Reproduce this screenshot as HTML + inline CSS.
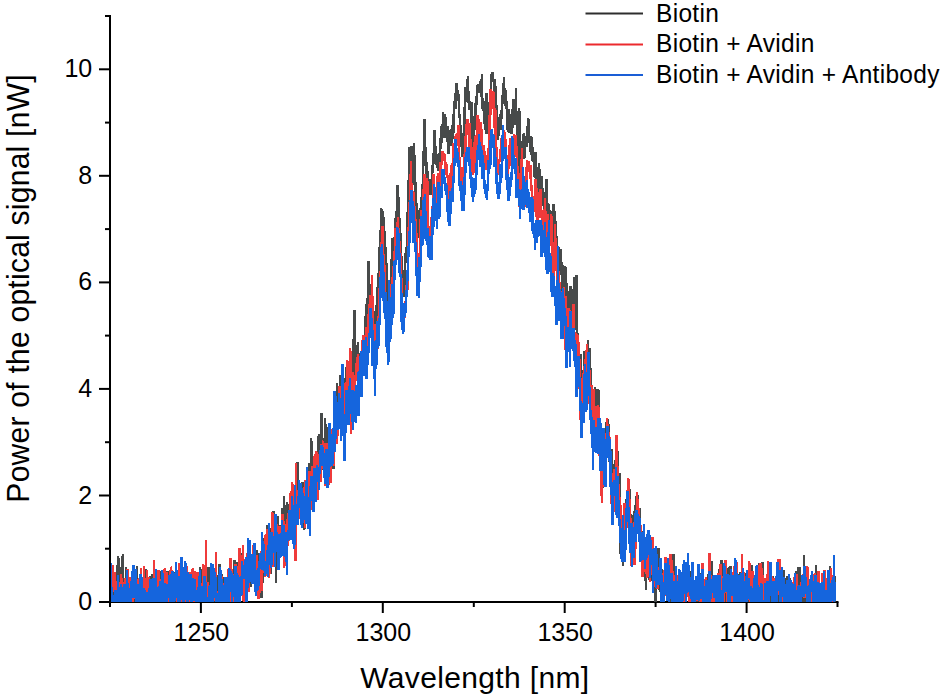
<!DOCTYPE html>
<html><head><meta charset="utf-8"><style>
html,body{margin:0;padding:0;background:#fff;width:943px;height:700px;overflow:hidden}
svg{display:block}
text{font-family:"Liberation Sans",sans-serif}
</style></head><body>
<svg width="943" height="700" viewBox="0 0 943 700">
<g stroke="#000" stroke-width="2" fill="none">
<path d="M110,15V602H838.5"/>
<path d="M99,602.0H110"/>
<path d="M105,548.7H110"/>
<path d="M99,495.5H110"/>
<path d="M105,442.2H110"/>
<path d="M99,388.9H110"/>
<path d="M105,335.6H110"/>
<path d="M99,282.4H110"/>
<path d="M105,229.1H110"/>
<path d="M99,175.8H110"/>
<path d="M105,122.6H110"/>
<path d="M99,69.3H110"/>
<path d="M105,16.0H110"/>
<path d="M110.0,602V607"/>
<path d="M200.9,602V613"/>
<path d="M291.9,602V607"/>
<path d="M382.8,602V613"/>
<path d="M473.8,602V607"/>
<path d="M564.7,602V613"/>
<path d="M655.6,602V607"/>
<path d="M746.6,602V613"/>
<path d="M837.5,602V607"/>
</g>
<defs><clipPath id="pc"><rect x="111" y="0" width="727" height="602"/></clipPath></defs>
<g clip-path="url(#pc)" shape-rendering="crispEdges" fill="none" stroke-width="2.4" stroke-linejoin="miter" stroke-miterlimit="2">
<polyline stroke="#474a4a" points="110.0,594.6 110.3,594.7 110.6,574.2 110.8,577.4 111.1,592.9 111.4,625.5 111.7,600.4 112.0,604.8 112.2,618.8 112.5,585.1 112.8,595.5 113.1,621.4 113.3,589.5 113.6,615.4 113.9,604.7 114.2,606.0 114.5,610.6 114.7,599.4 115.0,602.3 115.3,602.0 115.6,581.8 115.9,597.0 116.1,584.1 116.4,595.4 116.7,580.7 117.0,569.8 117.2,572.7 117.5,578.9 117.8,559.1 118.1,556.3 118.4,571.1 118.6,557.8 118.9,562.2 119.2,575.4 119.5,576.9 119.8,566.7 120.0,576.8 120.3,593.3 120.6,587.6 120.9,571.8 121.2,606.4 121.4,584.4 121.7,592.2 122.0,574.9 122.3,567.3 122.5,561.2 122.8,554.1 123.1,562.6 123.4,587.1 123.7,581.5 123.9,582.1 124.2,594.4 124.5,602.2 124.8,606.9 125.1,594.5 125.3,612.8 125.6,591.9 125.9,603.9 126.2,567.2 126.4,603.1 126.7,593.3 127.0,592.0 127.3,616.4 127.6,615.6 127.8,606.2 128.1,613.8 128.4,617.5 128.7,613.5 129.0,606.4 129.2,612.0 129.5,586.0 129.8,611.8 130.1,581.9 130.4,584.8 130.6,591.0 130.9,600.2 131.2,594.2 131.5,578.1 131.7,586.7 132.0,596.8 132.3,584.2 132.6,600.7 132.9,574.3 133.1,578.9 133.4,600.9 133.7,584.8 134.0,569.1 134.3,599.8 134.5,601.0 134.8,603.3 135.1,593.5 135.4,618.4 135.6,600.3 135.9,609.1 136.2,596.1 136.5,589.3 136.8,592.3 137.0,566.2 137.3,602.5 137.6,597.1 137.9,603.4 138.2,590.3 138.4,603.3 138.7,598.2 139.0,580.5 139.3,599.9 139.6,597.8 139.8,595.6 140.1,593.7 140.4,590.0 140.7,588.6 140.9,600.6 141.2,589.9 141.5,593.1 141.8,620.1 142.1,588.2 142.3,587.0 142.6,595.2 142.9,586.2 143.2,624.4 143.5,591.1 143.7,607.7 144.0,611.8 144.3,604.5 144.6,607.0 144.8,599.6 145.1,593.2 145.4,590.8 145.7,607.6 146.0,599.4 146.2,568.9 146.5,574.8 146.8,576.9 147.1,577.9 147.4,597.3 147.6,588.5 147.9,588.1 148.2,595.4 148.5,580.1 148.8,587.7 149.0,590.7 149.3,578.5 149.6,584.5 149.9,576.0 150.1,602.0 150.4,586.9 150.7,581.7 151.0,583.7 151.3,586.2 151.5,587.9 151.8,593.9 152.1,589.2 152.4,573.7 152.7,592.7 152.9,583.9 153.2,593.0 153.5,609.7 153.8,583.5 154.1,597.2 154.3,600.8 154.6,601.7 154.9,606.4 155.2,590.3 155.4,603.4 155.7,600.2 156.0,598.5 156.3,594.0 156.6,612.3 156.8,583.8 157.1,576.6 157.4,594.3 157.7,583.4 158.0,606.3 158.2,594.5 158.5,607.2 158.8,588.2 159.1,589.6 159.3,584.9 159.6,584.3 159.9,591.3 160.2,582.8 160.5,571.5 160.7,593.1 161.0,581.2 161.3,590.5 161.6,584.5 161.9,604.6 162.1,596.9 162.4,578.6 162.7,580.4 163.0,596.0 163.3,582.0 163.5,583.7 163.8,598.0 164.1,596.1 164.4,612.7 164.6,585.2 164.9,588.3 165.2,595.1 165.5,599.9 165.8,588.9 166.0,583.3 166.3,581.0 166.6,599.3 166.9,592.7 167.2,594.6 167.4,570.9 167.7,605.8 168.0,587.8 168.3,595.1 168.5,583.4 168.8,589.5 169.1,584.6 169.4,584.8 169.7,594.4 169.9,606.5 170.2,581.9 170.5,573.8 170.8,597.0 171.1,593.2 171.3,592.7 171.6,593.3 171.9,620.1 172.2,621.7 172.5,595.8 172.7,598.1 173.0,579.8 173.3,574.3 173.6,601.3 173.8,575.5 174.1,583.1 174.4,584.9 174.7,584.0 175.0,575.5 175.2,572.4 175.5,576.2 175.8,575.1 176.1,579.8 176.4,604.4 176.6,592.1 176.9,594.5 177.2,604.8 177.5,602.8 177.7,612.3 178.0,601.9 178.3,604.3 178.6,580.4 178.9,573.4 179.1,583.4 179.4,568.2 179.7,603.8 180.0,599.5 180.3,597.9 180.5,628.0 180.8,603.3 181.1,598.5 181.4,588.8 181.7,599.6 181.9,598.8 182.2,591.5 182.5,608.8 182.8,585.5 183.0,587.4 183.3,589.0 183.6,586.4 183.9,573.0 184.2,594.8 184.4,588.1 184.7,580.0 185.0,616.1 185.3,587.2 185.6,598.5 185.8,595.9 186.1,588.2 186.4,592.9 186.7,591.1 186.9,605.5 187.2,594.4 187.5,595.3 187.8,588.0 188.1,583.5 188.3,584.7 188.6,572.4 188.9,583.2 189.2,592.8 189.5,583.6 189.7,579.8 190.0,587.2 190.3,597.5 190.6,580.4 190.9,590.9 191.1,591.7 191.4,583.8 191.7,594.3 192.0,584.0 192.2,602.6 192.5,609.8 192.8,584.1 193.1,596.5 193.4,582.2 193.6,593.6 193.9,584.1 194.2,576.7 194.5,604.5 194.8,582.6 195.0,602.4 195.3,584.9 195.6,598.8 195.9,579.6 196.1,585.8 196.4,571.8 196.7,591.5 197.0,573.8 197.3,584.8 197.5,583.0 197.8,591.6 198.1,587.9 198.4,589.9 198.7,572.7 198.9,607.3 199.2,575.6 199.5,599.9 199.8,585.3 200.1,578.2 200.3,566.6 200.6,588.6 200.9,586.7 201.2,592.4 201.4,587.5 201.7,611.2 202.0,599.8 202.3,573.7 202.6,599.1 202.8,599.1 203.1,582.6 203.4,603.5 203.7,590.3 204.0,600.8 204.2,591.8 204.5,597.4 204.8,585.8 205.1,587.3 205.3,584.9 205.6,605.3 205.9,595.8 206.2,594.1 206.5,597.9 206.7,596.1 207.0,570.9 207.3,583.7 207.6,580.4 207.9,585.6 208.1,579.1 208.4,575.4 208.7,567.3 209.0,577.9 209.3,616.0 209.5,594.6 209.8,591.3 210.1,584.8 210.4,591.4 210.6,599.7 210.9,574.9 211.2,596.9 211.5,589.0 211.8,595.2 212.0,590.3 212.3,580.0 212.6,601.7 212.9,583.5 213.2,578.8 213.4,589.5 213.7,588.2 214.0,592.8 214.3,593.5 214.5,595.9 214.8,611.3 215.1,598.7 215.4,610.1 215.7,608.2 215.9,596.5 216.2,603.9 216.5,579.4 216.8,591.1 217.1,590.0 217.3,582.0 217.6,588.2 217.9,596.5 218.2,582.6 218.5,579.5 218.7,574.9 219.0,597.9 219.3,600.6 219.6,563.7 219.8,597.9 220.1,578.5 220.4,606.8 220.7,582.2 221.0,573.8 221.2,585.8 221.5,589.1 221.8,593.6 222.1,574.4 222.4,588.9 222.6,598.7 222.9,591.7 223.2,583.9 223.5,588.1 223.8,596.9 224.0,583.9 224.3,582.6 224.6,577.1 224.9,584.2 225.1,584.6 225.4,602.4 225.7,594.1 226.0,591.8 226.3,605.9 226.5,598.6 226.8,593.4 227.1,592.6 227.4,601.6 227.7,582.9 227.9,584.7 228.2,582.9 228.5,600.0 228.8,599.8 229.0,586.6 229.3,579.0 229.6,586.6 229.9,591.9 230.2,584.2 230.4,577.8 230.7,569.7 231.0,587.1 231.3,568.4 231.6,591.7 231.8,589.0 232.1,582.6 232.4,588.7 232.7,584.9 233.0,599.9 233.2,577.3 233.5,576.7 233.8,576.7 234.1,568.3 234.3,559.7 234.6,561.9 234.9,577.2 235.2,572.0 235.5,582.2 235.7,580.8 236.0,585.2 236.3,588.9 236.6,608.8 236.9,589.7 237.1,600.3 237.4,562.3 237.7,569.8 238.0,580.4 238.2,575.5 238.5,563.6 238.8,574.0 239.1,562.6 239.4,582.4 239.6,562.7 239.9,564.7 240.2,556.9 240.5,573.0 240.8,562.1 241.0,585.2 241.3,570.0 241.6,556.9 241.9,553.3 242.2,567.9 242.4,581.9 242.7,565.3 243.0,579.8 243.3,575.8 243.5,570.2 243.8,585.1 244.1,575.3 244.4,585.3 244.7,581.4 244.9,570.3 245.2,578.8 245.5,559.0 245.8,576.9 246.1,570.4 246.3,586.5 246.6,576.5 246.9,589.7 247.2,581.9 247.4,564.2 247.7,564.1 248.0,571.4 248.3,560.8 248.6,544.3 248.8,549.3 249.1,555.0 249.4,554.4 249.7,583.8 250.0,575.3 250.2,560.4 250.5,573.8 250.8,580.8 251.1,586.9 251.4,560.7 251.6,577.6 251.9,580.1 252.2,560.0 252.5,558.4 252.7,561.3 253.0,554.9 253.3,570.8 253.6,545.9 253.9,579.0 254.1,573.0 254.4,571.1 254.7,557.0 255.0,577.3 255.3,579.6 255.5,565.2 255.8,563.5 256.1,568.5 256.4,566.5 256.6,550.1 256.9,552.8 257.2,563.7 257.5,556.2 257.8,553.3 258.0,555.7 258.3,560.5 258.6,567.7 258.9,573.9 259.2,571.8 259.4,562.5 259.7,570.4 260.0,559.2 260.3,561.6 260.6,590.9 260.8,581.1 261.1,557.6 261.4,563.8 261.7,598.4 261.9,561.0 262.2,594.3 262.5,564.5 262.8,567.2 263.1,563.3 263.3,537.8 263.6,569.6 263.9,554.1 264.2,575.2 264.5,553.9 264.7,552.0 265.0,563.9 265.3,570.6 265.6,571.2 265.8,555.2 266.1,557.0 266.4,549.4 266.7,537.8 267.0,544.9 267.2,543.0 267.5,525.2 267.8,556.9 268.1,535.5 268.4,548.2 268.6,530.8 268.9,548.4 269.2,531.6 269.5,562.3 269.8,563.1 270.0,558.7 270.3,548.9 270.6,544.9 270.9,528.3 271.1,573.7 271.4,561.4 271.7,530.3 272.0,540.6 272.3,548.7 272.5,566.1 272.8,523.8 273.1,545.4 273.4,511.0 273.7,536.4 273.9,538.3 274.2,531.4 274.5,552.1 274.8,563.9 275.0,525.1 275.3,554.3 275.6,545.0 275.9,582.9 276.2,544.1 276.4,568.2 276.7,541.0 277.0,542.1 277.3,530.2 277.6,516.4 277.8,525.3 278.1,541.6 278.4,529.0 278.7,539.4 279.0,541.1 279.2,535.1 279.5,533.6 279.8,541.2 280.1,524.8 280.3,534.5 280.6,524.6 280.9,540.3 281.2,526.7 281.5,527.8 281.7,531.8 282.0,529.2 282.3,507.8 282.6,525.0 282.9,524.0 283.1,535.8 283.4,520.3 283.7,548.1 284.0,496.1 284.2,533.2 284.5,512.1 284.8,515.9 285.1,514.6 285.4,529.0 285.6,529.0 285.9,523.4 286.2,504.9 286.5,517.5 286.8,501.8 287.0,518.7 287.3,515.9 287.6,527.9 287.9,532.4 288.2,539.8 288.4,525.8 288.7,514.9 289.0,511.7 289.3,512.0 289.5,503.8 289.8,514.9 290.1,528.7 290.4,508.5 290.7,497.1 290.9,521.1 291.2,506.9 291.5,501.0 291.8,509.9 292.1,501.6 292.3,520.0 292.6,492.3 292.9,534.0 293.2,496.1 293.5,512.4 293.7,521.8 294.0,517.8 294.3,506.1 294.6,516.3 294.8,488.7 295.1,506.4 295.4,504.0 295.7,507.1 296.0,491.6 296.2,498.5 296.5,511.5 296.8,518.6 297.1,516.1 297.4,507.9 297.6,462.4 297.9,503.7 298.2,494.6 298.5,493.0 298.7,483.1 299.0,497.5 299.3,489.9 299.6,503.8 299.9,496.6 300.1,491.4 300.4,487.2 300.7,492.5 301.0,493.3 301.3,495.7 301.5,507.5 301.8,503.4 302.1,489.6 302.4,488.7 302.7,482.0 302.9,499.9 303.2,519.2 303.5,497.4 303.8,500.1 304.0,504.2 304.3,530.4 304.6,511.6 304.9,527.7 305.2,508.9 305.4,509.9 305.7,506.4 306.0,492.9 306.3,495.1 306.6,511.3 306.8,490.3 307.1,515.5 307.4,483.6 307.7,472.1 307.9,475.6 308.2,486.2 308.5,489.9 308.8,500.3 309.1,463.5 309.3,471.2 309.6,464.9 309.9,482.2 310.2,491.0 310.5,492.5 310.7,488.4 311.0,509.3 311.3,438.1 311.6,494.9 311.9,474.4 312.1,472.3 312.4,469.3 312.7,486.8 313.0,497.0 313.2,499.1 313.5,500.3 313.8,471.1 314.1,465.1 314.4,488.7 314.6,485.8 314.9,483.9 315.2,462.8 315.5,494.3 315.8,450.7 316.0,477.4 316.3,470.8 316.6,472.3 316.9,478.6 317.1,465.2 317.4,487.9 317.7,467.1 318.0,478.9 318.3,475.3 318.5,436.2 318.8,461.0 319.1,452.3 319.4,442.4 319.7,434.3 319.9,454.1 320.2,465.2 320.5,453.6 320.8,435.9 321.1,441.9 321.3,422.7 321.6,412.7 321.9,432.1 322.2,436.1 322.4,444.0 322.7,441.6 323.0,440.7 323.3,468.7 323.6,469.7 323.8,462.0 324.1,437.8 324.4,440.8 324.7,445.1 325.0,417.7 325.2,446.9 325.5,423.7 325.8,446.7 326.1,443.1 326.3,460.0 326.6,440.3 326.9,459.1 327.2,429.4 327.5,443.4 327.7,427.0 328.0,445.0 328.3,473.6 328.6,429.6 328.9,447.5 329.1,439.8 329.4,448.8 329.7,454.1 330.0,445.1 330.3,436.4 330.5,445.1 330.8,446.4 331.1,448.6 331.4,433.1 331.6,463.4 331.9,449.8 332.2,440.8 332.5,460.6 332.8,442.6 333.0,447.8 333.3,437.4 333.6,468.6 333.9,437.8 334.2,429.7 334.4,427.4 334.7,413.5 335.0,423.9 335.3,399.0 335.5,414.4 335.8,400.2 336.1,400.9 336.4,405.6 336.7,414.9 336.9,401.1 337.2,382.7 337.5,404.3 337.8,423.3 338.1,427.2 338.3,386.5 338.6,403.7 338.9,401.2 339.2,389.0 339.5,400.6 339.7,394.6 340.0,389.3 340.3,396.3 340.6,375.4 340.8,381.4 341.1,396.9 341.4,392.8 341.7,382.7 342.0,383.7 342.2,392.6 342.5,400.0 342.8,407.6 343.1,404.4 343.4,404.9 343.6,398.6 343.9,393.8 344.2,421.9 344.5,395.6 344.7,385.1 345.0,382.1 345.3,378.5 345.6,392.3 345.9,373.5 346.1,386.1 346.4,367.0 346.7,382.7 347.0,368.5 347.3,365.4 347.5,404.2 347.8,373.2 348.1,378.6 348.4,387.3 348.7,405.3 348.9,406.6 349.2,385.0 349.5,378.7 349.8,374.5 350.0,373.2 350.3,404.2 350.6,372.7 350.9,379.4 351.2,390.0 351.4,403.6 351.7,406.2 352.0,392.8 352.3,383.9 352.6,392.7 352.8,372.7 353.1,370.7 353.4,360.1 353.7,338.8 353.9,360.4 354.2,380.7 354.5,309.6 354.8,349.2 355.1,356.1 355.3,345.1 355.6,348.7 355.9,369.7 356.2,361.4 356.5,356.6 356.7,351.0 357.0,354.1 357.3,366.2 357.6,365.5 357.9,341.9 358.1,361.0 358.4,364.3 358.7,367.7 359.0,355.5 359.2,369.8 359.5,373.7 359.8,376.1 360.1,370.1 360.4,362.0 360.6,353.1 360.9,355.2 361.2,373.1 361.5,372.8 361.8,367.7 362.0,364.1 362.3,368.3 362.6,366.4 362.9,365.7 363.1,346.5 363.4,355.5 363.7,355.1 364.0,361.6 364.3,341.9 364.5,349.3 364.8,331.9 365.1,315.6 365.4,327.6 365.7,325.1 365.9,320.6 366.2,331.3 366.5,303.9 366.8,309.5 367.1,298.5 367.3,310.5 367.6,331.0 367.9,312.1 368.2,307.3 368.4,293.3 368.7,261.3 369.0,279.9 369.3,291.6 369.6,284.2 369.8,294.2 370.1,306.4 370.4,295.0 370.7,303.8 371.0,299.9 371.2,316.3 371.5,310.0 371.8,311.9 372.1,320.4 372.4,318.8 372.6,315.2 372.9,325.2 373.2,312.2 373.5,329.0 373.7,329.2 374.0,313.2 374.3,337.1 374.6,316.6 374.9,312.4 375.1,336.4 375.4,311.0 375.7,315.8 376.0,304.6 376.3,315.9 376.5,356.2 376.8,312.9 377.1,302.1 377.4,297.9 377.6,297.0 377.9,273.3 378.2,306.4 378.5,283.2 378.8,271.6 379.0,271.2 379.3,270.1 379.6,246.9 379.9,264.5 380.2,230.2 380.4,243.3 380.7,233.9 381.0,235.7 381.3,208.4 381.6,226.6 381.8,211.7 382.1,227.6 382.4,214.8 382.7,238.1 382.9,226.9 383.2,211.1 383.5,226.2 383.8,236.8 384.1,250.2 384.3,248.1 384.6,230.6 384.9,256.4 385.2,251.7 385.5,264.5 385.7,247.1 386.0,283.8 386.3,263.3 386.6,301.0 386.8,273.0 387.1,262.6 387.4,308.2 387.7,306.6 388.0,325.1 388.2,311.6 388.5,315.2 388.8,321.7 389.1,314.6 389.4,331.4 389.6,317.5 389.9,332.1 390.2,317.1 390.5,304.6 390.8,285.4 391.0,285.6 391.3,258.7 391.6,265.3 391.9,258.0 392.1,237.7 392.4,272.1 392.7,251.2 393.0,243.4 393.3,246.4 393.5,258.6 393.8,241.1 394.1,244.0 394.4,239.4 394.7,236.7 394.9,240.6 395.2,244.7 395.5,221.6 395.8,216.3 396.0,229.7 396.3,217.1 396.6,212.3 396.9,210.2 397.2,190.4 397.4,185.3 397.7,190.0 398.0,211.4 398.3,205.2 398.6,197.4 398.8,201.0 399.1,204.2 399.4,223.4 399.7,223.4 400.0,229.2 400.2,242.8 400.5,232.9 400.8,248.6 401.1,235.3 401.3,254.9 401.6,269.7 401.9,269.0 402.2,301.5 402.5,285.7 402.7,281.1 403.0,284.4 403.3,295.7 403.6,269.9 403.9,296.8 404.1,286.2 404.4,277.3 404.7,295.3 405.0,283.6 405.2,253.5 405.5,257.5 405.8,262.9 406.1,248.1 406.4,252.8 406.6,262.1 406.9,227.2 407.2,218.5 407.5,211.9 407.8,221.5 408.0,221.6 408.3,213.1 408.6,202.8 408.9,147.0 409.2,193.9 409.4,200.8 409.7,187.2 410.0,167.9 410.3,163.0 410.5,172.8 410.8,157.8 411.1,151.2 411.4,163.4 411.7,145.9 411.9,158.6 412.2,147.3 412.5,158.5 412.8,160.6 413.1,151.5 413.3,156.7 413.6,185.0 413.9,142.8 414.2,166.3 414.4,154.8 414.7,163.3 415.0,175.1 415.3,182.7 415.6,183.2 415.8,199.3 416.1,217.7 416.4,202.8 416.7,227.1 417.0,207.5 417.2,224.9 417.5,219.9 417.8,223.8 418.1,227.5 418.4,227.5 418.6,232.5 418.9,223.4 419.2,228.4 419.5,238.3 419.7,210.0 420.0,214.6 420.3,216.5 420.6,208.4 420.9,221.0 421.1,200.8 421.4,212.2 421.7,197.5 422.0,184.7 422.3,186.3 422.5,187.3 422.8,183.3 423.1,160.0 423.4,151.0 423.6,165.6 423.9,143.8 424.2,151.0 424.5,119.5 424.8,129.4 425.0,152.1 425.3,146.8 425.6,158.9 425.9,161.4 426.2,161.9 426.4,162.4 426.7,183.2 427.0,168.8 427.3,172.6 427.6,170.7 427.8,191.6 428.1,184.5 428.4,181.9 428.7,188.8 428.9,191.4 429.2,188.9 429.5,179.3 429.8,186.5 430.1,189.9 430.3,180.2 430.6,194.6 430.9,188.2 431.2,184.7 431.5,189.9 431.7,184.6 432.0,178.3 432.3,165.1 432.6,173.3 432.8,161.5 433.1,171.9 433.4,161.2 433.7,153.7 434.0,146.1 434.2,161.0 434.5,130.2 434.8,139.4 435.1,150.2 435.4,145.9 435.6,151.2 435.9,160.7 436.2,155.6 436.5,156.5 436.8,168.3 437.0,157.5 437.3,166.4 437.6,160.5 437.9,154.0 438.1,161.2 438.4,170.8 438.7,156.2 439.0,152.9 439.3,153.9 439.5,167.5 439.8,154.3 440.1,139.5 440.4,149.0 440.7,138.9 440.9,126.0 441.2,126.8 441.5,133.6 441.8,125.6 442.1,142.7 442.3,130.2 442.6,131.5 442.9,112.3 443.2,123.0 443.4,137.9 443.7,120.2 444.0,135.1 444.3,123.6 444.6,125.0 444.8,119.9 445.1,114.1 445.4,131.9 445.7,116.6 446.0,128.5 446.2,124.8 446.5,137.9 446.8,137.6 447.1,141.8 447.3,126.0 447.6,133.2 447.9,153.4 448.2,130.4 448.5,153.5 448.7,149.0 449.0,145.7 449.3,138.2 449.6,144.9 449.9,143.8 450.1,130.1 450.4,134.5 450.7,141.8 451.0,146.2 451.3,131.2 451.5,140.4 451.8,125.4 452.1,143.7 452.4,136.6 452.6,138.0 452.9,115.8 453.2,118.6 453.5,113.9 453.8,132.8 454.0,104.6 454.3,101.3 454.6,108.8 454.9,93.5 455.2,107.7 455.4,109.1 455.7,102.9 456.0,89.7 456.3,83.0 456.5,88.3 456.8,94.8 457.1,89.8 457.4,90.6 457.7,93.7 457.9,97.4 458.2,91.8 458.5,97.0 458.8,102.9 459.1,105.8 459.3,113.7 459.6,118.1 459.9,117.6 460.2,120.6 460.5,130.2 460.7,135.2 461.0,137.5 461.3,139.9 461.6,136.9 461.8,153.7 462.1,149.3 462.4,157.2 462.7,146.7 463.0,133.0 463.2,153.6 463.5,140.2 463.8,139.1 464.1,131.5 464.4,127.0 464.6,112.1 464.9,100.4 465.2,112.1 465.5,87.0 465.7,100.4 466.0,102.1 466.3,91.9 466.6,96.5 466.9,84.1 467.1,87.2 467.4,84.2 467.7,79.5 468.0,75.8 468.3,102.6 468.5,97.0 468.8,98.8 469.1,91.3 469.4,110.3 469.7,108.5 469.9,101.3 470.2,103.5 470.5,108.8 470.8,104.2 471.0,131.2 471.3,122.2 471.6,113.9 471.9,127.2 472.2,101.7 472.4,127.4 472.7,144.0 473.0,140.8 473.3,140.3 473.6,150.3 473.8,138.7 474.1,133.1 474.4,128.2 474.7,122.8 474.9,129.3 475.2,125.2 475.5,115.4 475.8,97.8 476.1,102.1 476.3,105.6 476.6,101.8 476.9,88.0 477.2,94.7 477.5,87.6 477.7,84.6 478.0,87.5 478.3,93.1 478.6,88.8 478.9,86.9 479.1,85.1 479.4,84.9 479.7,90.6 480.0,91.5 480.2,80.9 480.5,90.1 480.8,79.3 481.1,88.1 481.4,96.6 481.6,86.6 481.9,74.5 482.2,94.9 482.5,109.4 482.8,98.5 483.0,110.9 483.3,101.2 483.6,103.4 483.9,115.4 484.1,124.3 484.4,116.9 484.7,117.1 485.0,121.4 485.3,117.3 485.5,130.3 485.8,121.8 486.1,131.5 486.4,133.9 486.7,93.4 486.9,121.9 487.2,118.7 487.5,129.4 487.8,124.9 488.1,113.4 488.3,124.8 488.6,113.1 488.9,116.6 489.2,102.1 489.4,109.5 489.7,108.3 490.0,108.4 490.3,98.2 490.6,93.3 490.8,110.4 491.1,98.8 491.4,74.0 491.7,78.6 492.0,73.9 492.2,72.3 492.5,82.4 492.8,75.4 493.1,72.3 493.3,80.6 493.6,82.2 493.9,80.9 494.2,94.9 494.5,84.6 494.7,79.5 495.0,85.2 495.3,88.6 495.6,85.7 495.9,98.3 496.1,102.8 496.4,106.2 496.7,108.2 497.0,134.3 497.3,128.4 497.5,126.9 497.8,139.5 498.1,130.5 498.4,135.2 498.6,135.2 498.9,131.7 499.2,116.7 499.5,123.1 499.8,118.5 500.0,128.4 500.3,113.8 500.6,119.9 500.9,129.6 501.2,112.5 501.4,119.0 501.7,109.8 502.0,108.4 502.3,100.3 502.5,100.1 502.8,93.3 503.1,92.0 503.4,93.3 503.7,83.3 503.9,77.0 504.2,93.5 504.5,104.4 504.8,91.5 505.1,88.4 505.3,89.5 505.6,103.2 505.9,109.0 506.2,100.2 506.5,101.8 506.7,106.7 507.0,123.5 507.3,126.3 507.6,129.8 507.8,124.2 508.1,127.9 508.4,108.8 508.7,131.5 509.0,123.9 509.2,123.7 509.5,133.1 509.8,128.0 510.1,123.6 510.4,121.4 510.6,129.3 510.9,117.9 511.2,114.3 511.5,133.8 511.8,119.4 512.0,109.7 512.3,122.2 512.6,109.4 512.9,127.6 513.1,105.4 513.4,98.8 513.7,107.3 514.0,118.4 514.3,106.3 514.5,98.6 514.8,106.8 515.1,125.1 515.4,117.8 515.7,99.7 515.9,87.7 516.2,108.7 516.5,114.8 516.8,120.8 517.0,139.2 517.3,111.9 517.6,131.5 517.9,136.3 518.2,127.7 518.4,145.0 518.7,168.9 519.0,165.8 519.3,108.2 519.6,158.9 519.8,158.2 520.1,165.6 520.4,164.5 520.7,186.2 521.0,155.9 521.2,157.1 521.5,161.5 521.8,153.7 522.1,146.2 522.3,144.4 522.6,141.7 522.9,141.0 523.2,136.1 523.5,134.7 523.7,148.2 524.0,133.3 524.3,159.3 524.6,139.7 524.9,138.0 525.1,135.6 525.4,141.5 525.7,146.2 526.0,142.2 526.2,146.1 526.5,137.8 526.8,147.1 527.1,136.1 527.4,140.0 527.6,132.0 527.9,118.5 528.2,133.4 528.5,129.3 528.8,143.3 529.0,119.4 529.3,141.0 529.6,137.3 529.9,149.7 530.2,136.1 530.4,152.2 530.7,150.1 531.0,135.6 531.3,151.2 531.5,155.2 531.8,153.0 532.1,136.7 532.4,156.0 532.7,161.0 532.9,160.4 533.2,147.1 533.5,160.0 533.8,163.2 534.1,160.3 534.3,177.4 534.6,174.8 534.9,172.6 535.2,159.2 535.4,152.4 535.7,178.0 536.0,187.7 536.3,173.9 536.6,168.2 536.8,182.6 537.1,167.0 537.4,191.7 537.7,186.7 538.0,176.9 538.2,170.8 538.5,185.7 538.8,169.5 539.1,163.3 539.4,170.9 539.6,174.7 539.9,169.1 540.2,181.9 540.5,186.9 540.7,189.0 541.0,215.4 541.3,195.3 541.6,189.5 541.9,175.9 542.1,197.6 542.4,204.1 542.7,188.2 543.0,190.8 543.3,206.3 543.5,201.2 543.8,201.9 544.1,200.6 544.4,195.9 544.6,209.5 544.9,198.7 545.2,214.4 545.5,192.0 545.8,221.3 546.0,196.6 546.3,207.8 546.6,178.7 546.9,195.8 547.2,215.9 547.4,217.5 547.7,217.7 548.0,202.7 548.3,224.6 548.6,211.1 548.8,204.0 549.1,213.5 549.4,214.3 549.7,219.2 549.9,217.3 550.2,210.3 550.5,212.3 550.8,232.0 551.1,235.6 551.3,225.5 551.6,239.7 551.9,226.8 552.2,217.1 552.5,227.0 552.7,230.6 553.0,216.6 553.3,228.7 553.6,203.9 553.8,233.9 554.1,220.6 554.4,226.6 554.7,247.0 555.0,223.9 555.2,211.2 555.5,238.2 555.8,252.7 556.1,235.7 556.4,236.8 556.6,261.5 556.9,265.8 557.2,237.0 557.5,263.2 557.8,272.5 558.0,272.4 558.3,251.9 558.6,247.2 558.9,285.0 559.1,275.4 559.4,267.2 559.7,271.2 560.0,274.7 560.3,270.4 560.5,249.2 560.8,249.6 561.1,268.0 561.4,269.6 561.7,267.2 561.9,294.6 562.2,262.2 562.5,269.4 562.8,284.1 563.0,288.3 563.3,314.1 563.6,282.9 563.9,271.1 564.2,280.9 564.4,274.5 564.7,280.3 565.0,297.9 565.3,265.9 565.6,281.9 565.8,285.8 566.1,282.3 566.4,283.0 566.7,300.8 567.0,292.8 567.2,302.9 567.5,298.0 567.8,317.9 568.1,308.7 568.3,292.4 568.6,302.6 568.9,317.7 569.2,315.5 569.5,298.6 569.7,291.3 570.0,292.6 570.3,318.7 570.6,285.7 570.9,303.1 571.1,323.7 571.4,299.8 571.7,296.8 572.0,308.4 572.2,311.5 572.5,297.1 572.8,308.4 573.1,325.6 573.4,294.2 573.6,297.2 573.9,277.3 574.2,313.0 574.5,317.3 574.8,311.4 575.0,320.9 575.3,315.5 575.6,309.3 575.9,325.9 576.2,330.3 576.4,308.1 576.7,275.0 577.0,343.1 577.3,338.1 577.5,342.9 577.8,339.7 578.1,333.2 578.4,360.1 578.7,347.9 578.9,368.8 579.2,378.5 579.5,368.3 579.8,366.7 580.1,371.2 580.3,369.1 580.6,354.5 580.9,378.2 581.2,366.7 581.5,403.8 581.7,385.1 582.0,397.4 582.3,391.7 582.6,399.5 582.8,391.9 583.1,370.2 583.4,380.8 583.7,376.5 584.0,377.5 584.2,377.9 584.5,351.5 584.8,364.8 585.1,354.9 585.4,362.9 585.6,387.4 585.9,380.0 586.2,373.5 586.5,371.1 586.7,383.6 587.0,364.5 587.3,364.0 587.6,346.4 587.9,358.7 588.1,340.1 588.4,357.1 588.7,378.4 589.0,379.7 589.3,362.1 589.5,372.4 589.8,348.4 590.1,387.2 590.4,368.2 590.7,376.9 590.9,396.6 591.2,386.1 591.5,389.6 591.8,401.1 592.0,412.5 592.3,406.9 592.6,435.1 592.9,391.2 593.2,408.4 593.4,415.6 593.7,414.6 594.0,407.5 594.3,421.5 594.6,416.1 594.8,405.8 595.1,387.5 595.4,396.5 595.7,416.1 595.9,391.3 596.2,388.6 596.5,419.4 596.8,388.6 597.1,392.0 597.3,411.3 597.6,396.5 597.9,401.3 598.2,390.5 598.5,389.7 598.7,401.2 599.0,419.3 599.3,440.0 599.6,436.9 599.9,448.9 600.1,443.4 600.4,463.0 600.7,432.8 601.0,441.9 601.2,458.9 601.5,468.7 601.8,455.9 602.1,445.6 602.4,454.1 602.6,455.0 602.9,438.3 603.2,487.9 603.5,455.1 603.8,470.3 604.0,447.7 604.3,461.1 604.6,448.7 604.9,465.9 605.1,446.4 605.4,459.9 605.7,448.9 606.0,443.3 606.3,421.7 606.5,449.5 606.8,421.9 607.1,426.9 607.4,445.4 607.7,421.9 607.9,418.6 608.2,422.2 608.5,426.9 608.8,427.7 609.1,435.3 609.3,441.0 609.6,461.6 609.9,449.3 610.2,454.4 610.4,461.6 610.7,450.3 611.0,477.1 611.3,449.3 611.6,454.6 611.8,525.2 612.1,485.4 612.4,478.1 612.7,504.2 613.0,487.5 613.2,495.6 613.5,478.8 613.8,488.2 614.1,478.6 614.3,464.4 614.6,480.1 614.9,475.7 615.2,476.5 615.5,459.7 615.7,471.3 616.0,469.7 616.3,487.3 616.6,456.8 616.9,466.3 617.1,435.3 617.4,458.6 617.7,477.1 618.0,471.6 618.3,484.8 618.5,495.1 618.8,499.8 619.1,489.7 619.4,473.4 619.6,508.2 619.9,520.6 620.2,519.4 620.5,553.6 620.8,524.7 621.0,520.4 621.3,527.6 621.6,545.1 621.9,556.9 622.2,548.2 622.4,541.3 622.7,534.5 623.0,551.1 623.3,566.3 623.5,533.0 623.8,544.0 624.1,522.1 624.4,529.9 624.7,525.5 624.9,532.8 625.2,520.5 625.5,513.3 625.8,523.8 626.1,500.5 626.3,506.3 626.6,499.4 626.9,499.2 627.2,495.8 627.5,503.5 627.7,490.3 628.0,491.0 628.3,491.6 628.6,494.1 628.8,491.5 629.1,512.5 629.4,488.8 629.7,544.4 630.0,518.5 630.2,530.2 630.5,542.0 630.8,530.6 631.1,538.1 631.4,532.3 631.6,524.9 631.9,526.4 632.2,515.5 632.5,514.9 632.7,532.4 633.0,522.5 633.3,548.2 633.6,554.3 633.9,519.9 634.1,521.5 634.4,525.3 634.7,511.1 635.0,512.1 635.3,532.2 635.5,528.4 635.8,496.3 636.1,511.6 636.4,518.3 636.7,529.3 636.9,518.8 637.2,514.0 637.5,495.4 637.8,522.2 638.0,519.6 638.3,530.1 638.6,527.9 638.9,512.6 639.2,518.4 639.4,526.1 639.7,523.1 640.0,508.1 640.3,531.4 640.6,542.4 640.8,553.4 641.1,550.0 641.4,554.5 641.7,530.6 641.9,541.4 642.2,548.9 642.5,533.5 642.8,543.3 643.1,534.7 643.3,535.7 643.6,549.0 643.9,549.8 644.2,556.9 644.5,544.1 644.7,559.8 645.0,581.0 645.3,554.1 645.6,563.8 645.9,589.7 646.1,571.8 646.4,572.5 646.7,577.7 647.0,535.5 647.2,556.5 647.5,567.0 647.8,555.4 648.1,551.7 648.4,572.3 648.6,568.0 648.9,553.1 649.2,567.9 649.5,579.5 649.8,552.9 650.0,548.1 650.3,547.7 650.6,568.6 650.9,573.4 651.1,568.3 651.4,572.5 651.7,543.1 652.0,578.1 652.3,578.7 652.5,574.2 652.8,584.2 653.1,569.4 653.4,570.1 653.7,585.0 653.9,573.1 654.2,586.8 654.5,579.6 654.8,583.7 655.1,589.4 655.3,580.2 655.6,601.9 655.9,576.4 656.2,588.7 656.4,586.9 656.7,582.7 657.0,587.7 657.3,573.8 657.6,580.6 657.8,550.5 658.1,585.5 658.4,547.8 658.7,563.0 659.0,584.2 659.2,574.3 659.5,584.7 659.8,591.8 660.1,571.1 660.4,571.7 660.6,571.1 660.9,580.1 661.2,570.8 661.5,586.7 661.7,581.5 662.0,600.9 662.3,569.1 662.6,590.8 662.9,572.3 663.1,582.4 663.4,579.5 663.7,586.8 664.0,584.1 664.3,590.1 664.5,591.9 664.8,575.5 665.1,564.6 665.4,580.1 665.6,567.3 665.9,579.4 666.2,582.2 666.5,581.0 666.8,589.5 667.0,598.5 667.3,580.2 667.6,578.5 667.9,582.1 668.2,588.3 668.4,590.9 668.7,588.1 669.0,571.4 669.3,580.3 669.6,592.9 669.8,578.1 670.1,581.4 670.4,600.3 670.7,600.3 670.9,576.7 671.2,601.5 671.5,566.4 671.8,574.3 672.1,579.7 672.3,563.3 672.6,592.3 672.9,575.3 673.2,587.0 673.5,554.0 673.7,601.9 674.0,579.7 674.3,591.8 674.6,600.7 674.8,577.2 675.1,597.8 675.4,594.6 675.7,590.7 676.0,579.5 676.2,583.6 676.5,584.5 676.8,578.5 677.1,591.1 677.4,584.5 677.6,580.9 677.9,580.1 678.2,594.6 678.5,602.0 678.8,594.7 679.0,599.9 679.3,590.0 679.6,597.9 679.9,594.4 680.1,607.2 680.4,593.2 680.7,592.9 681.0,596.1 681.3,590.3 681.5,617.8 681.8,627.5 682.1,600.9 682.4,606.9 682.7,602.2 682.9,616.0 683.2,605.6 683.5,591.7 683.8,589.3 684.0,591.7 684.3,586.2 684.6,576.5 684.9,605.4 685.2,589.5 685.4,580.7 685.7,588.9 686.0,598.7 686.3,594.2 686.6,580.3 686.8,588.2 687.1,589.2 687.4,583.3 687.7,580.1 688.0,589.2 688.2,578.8 688.5,593.9 688.8,586.8 689.1,606.2 689.3,589.6 689.6,579.9 689.9,588.3 690.2,593.7 690.5,583.7 690.7,600.1 691.0,571.0 691.3,598.2 691.6,597.2 691.9,574.4 692.1,588.1 692.4,597.7 692.7,609.8 693.0,574.6 693.2,595.1 693.5,586.0 693.8,586.9 694.1,584.1 694.4,591.3 694.6,580.6 694.9,593.0 695.2,586.7 695.5,595.5 695.8,593.0 696.0,600.3 696.3,584.9 696.6,593.4 696.9,586.8 697.2,588.1 697.4,617.1 697.7,609.6 698.0,591.8 698.3,606.6 698.5,609.8 698.8,613.1 699.1,600.5 699.4,572.7 699.7,596.9 699.9,596.6 700.2,582.8 700.5,591.3 700.8,587.7 701.1,588.0 701.3,578.8 701.6,594.6 701.9,576.7 702.2,586.6 702.4,589.6 702.7,607.0 703.0,600.8 703.3,609.3 703.6,591.0 703.8,585.4 704.1,619.5 704.4,608.9 704.7,589.8 705.0,581.5 705.2,582.6 705.5,589.1 705.8,598.0 706.1,611.8 706.4,599.0 706.6,596.0 706.9,604.6 707.2,601.6 707.5,604.9 707.7,590.3 708.0,582.6 708.3,590.2 708.6,573.8 708.9,611.0 709.1,570.9 709.4,568.5 709.7,582.8 710.0,598.0 710.3,604.6 710.5,588.4 710.8,592.8 711.1,583.4 711.4,582.2 711.6,588.9 711.9,589.4 712.2,561.5 712.5,612.5 712.8,603.5 713.0,601.9 713.3,595.9 713.6,593.3 713.9,607.9 714.2,584.9 714.4,584.0 714.7,602.7 715.0,587.8 715.3,607.1 715.6,602.2 715.8,602.1 716.1,594.2 716.4,604.2 716.7,600.3 716.9,608.5 717.2,601.0 717.5,612.9 717.8,593.6 718.1,591.2 718.3,573.0 718.6,597.7 718.9,583.0 719.2,600.3 719.5,569.0 719.7,585.6 720.0,584.6 720.3,579.4 720.6,575.4 720.8,596.5 721.1,600.5 721.4,594.7 721.7,560.4 722.0,592.8 722.2,601.7 722.5,571.8 722.8,594.3 723.1,575.4 723.4,590.6 723.6,594.7 723.9,633.5 724.2,583.7 724.5,600.9 724.8,619.8 725.0,614.2 725.3,619.1 725.6,598.4 725.9,619.2 726.1,605.2 726.4,608.6 726.7,595.7 727.0,601.3 727.3,598.3 727.5,587.9 727.8,567.9 728.1,600.6 728.4,609.7 728.7,582.7 728.9,597.4 729.2,589.6 729.5,567.3 729.8,567.1 730.1,597.9 730.3,581.1 730.6,583.0 730.9,566.2 731.2,584.7 731.4,588.9 731.7,602.4 732.0,600.0 732.3,591.0 732.6,596.5 732.8,602.4 733.1,596.2 733.4,604.5 733.7,599.9 734.0,589.9 734.2,602.5 734.5,597.2 734.8,593.1 735.1,605.7 735.3,618.4 735.6,599.6 735.9,608.9 736.2,610.4 736.5,611.2 736.7,610.3 737.0,602.8 737.3,588.7 737.6,602.9 737.9,602.3 738.1,590.0 738.4,607.7 738.7,585.4 739.0,585.1 739.3,573.8 739.5,580.3 739.8,577.6 740.1,573.8 740.4,596.5 740.6,572.3 740.9,584.9 741.2,589.1 741.5,591.3 741.8,584.6 742.0,598.5 742.3,576.9 742.6,588.7 742.9,585.3 743.2,604.2 743.4,628.3 743.7,596.1 744.0,598.3 744.3,606.7 744.5,590.5 744.8,602.9 745.1,604.0 745.4,607.2 745.7,598.7 745.9,608.5 746.2,572.9 746.5,622.9 746.8,614.2 747.1,592.6 747.3,592.3 747.6,591.9 747.9,599.3 748.2,587.9 748.5,611.1 748.7,594.5 749.0,619.2 749.3,595.0 749.6,593.1 749.8,608.3 750.1,606.5 750.4,611.5 750.7,585.0 751.0,589.3 751.2,586.6 751.5,585.6 751.8,584.3 752.1,565.0 752.4,587.6 752.6,576.9 752.9,590.5 753.2,588.5 753.5,581.9 753.7,577.5 754.0,589.9 754.3,594.9 754.6,584.2 754.9,589.7 755.1,593.0 755.4,588.1 755.7,592.5 756.0,580.9 756.3,590.0 756.5,584.2 756.8,588.3 757.1,588.3 757.4,570.2 757.7,580.3 757.9,577.8 758.2,588.9 758.5,579.0 758.8,563.1 759.0,580.7 759.3,593.9 759.6,586.6 759.9,596.4 760.2,581.9 760.4,584.6 760.7,588.6 761.0,577.1 761.3,586.8 761.6,581.9 761.8,595.5 762.1,563.3 762.4,562.2 762.7,592.6 762.9,582.9 763.2,595.0 763.5,585.1 763.8,613.9 764.1,613.1 764.3,613.3 764.6,590.0 764.9,594.9 765.2,589.6 765.5,590.8 765.7,590.7 766.0,591.3 766.3,597.8 766.6,578.8 766.9,604.6 767.1,585.6 767.4,586.1 767.7,590.3 768.0,584.0 768.2,601.7 768.5,592.0 768.8,605.3 769.1,594.2 769.4,600.0 769.6,627.6 769.9,604.5 770.2,597.0 770.5,611.4 770.8,603.3 771.0,602.1 771.3,593.1 771.6,587.9 771.9,588.3 772.1,587.0 772.4,580.4 772.7,590.7 773.0,602.1 773.3,576.1 773.5,603.4 773.8,584.1 774.1,588.9 774.4,609.4 774.7,585.1 774.9,587.1 775.2,604.7 775.5,598.7 775.8,586.5 776.1,593.8 776.3,608.9 776.6,597.0 776.9,585.7 777.2,592.0 777.4,580.1 777.7,607.5 778.0,594.4 778.3,609.8 778.6,616.4 778.8,594.6 779.1,598.5 779.4,603.3 779.7,583.5 780.0,596.6 780.2,587.3 780.5,590.8 780.8,576.1 781.1,580.4 781.3,581.7 781.6,584.0 781.9,587.8 782.2,576.9 782.5,593.9 782.7,586.4 783.0,587.8 783.3,601.6 783.6,604.1 783.9,569.8 784.1,589.2 784.4,602.3 784.7,596.8 785.0,598.0 785.3,627.7 785.5,597.3 785.8,599.5 786.1,610.1 786.4,587.5 786.6,578.0 786.9,585.3 787.2,584.9 787.5,575.8 787.8,589.8 788.0,600.8 788.3,602.1 788.6,601.1 788.9,588.7 789.2,594.3 789.4,617.1 789.7,584.2 790.0,578.3 790.3,596.5 790.5,590.4 790.8,594.4 791.1,600.3 791.4,601.7 791.7,610.6 791.9,609.4 792.2,596.4 792.5,597.4 792.8,591.5 793.1,581.9 793.3,605.7 793.6,622.8 793.9,589.7 794.2,605.8 794.5,596.4 794.7,601.0 795.0,590.6 795.3,592.2 795.6,596.6 795.8,594.1 796.1,571.3 796.4,586.8 796.7,582.9 797.0,599.3 797.2,608.1 797.5,590.3 797.8,621.9 798.1,595.7 798.4,598.3 798.6,566.7 798.9,583.3 799.2,595.8 799.5,566.9 799.8,581.1 800.0,593.8 800.3,586.5 800.6,586.1 800.9,592.4 801.1,606.0 801.4,600.9 801.7,600.6 802.0,576.9 802.3,609.0 802.5,598.1 802.8,594.3 803.1,616.5 803.4,607.5 803.7,609.7 803.9,613.9 804.2,555.0 804.5,593.0 804.8,575.5 805.0,607.4 805.3,584.9 805.6,575.1 805.9,592.8 806.2,583.4 806.4,594.8 806.7,585.2 807.0,624.2 807.3,621.2 807.6,602.1 807.8,599.1 808.1,600.0 808.4,607.0 808.7,598.3 809.0,603.3 809.2,606.2 809.5,601.3 809.8,609.3 810.1,603.9 810.3,613.1 810.6,588.5 810.9,586.6 811.2,591.7 811.5,591.8 811.7,596.7 812.0,583.1 812.3,605.1 812.6,600.6 812.9,594.9 813.1,600.7 813.4,587.5 813.7,597.7 814.0,601.8 814.2,587.2 814.5,602.2 814.8,601.3 815.1,586.1 815.4,590.4 815.6,592.1 815.9,586.0 816.2,565.5 816.5,583.1 816.8,583.4 817.0,585.8 817.3,582.4 817.6,609.3 817.9,603.2 818.2,589.2 818.4,623.2 818.7,593.0 819.0,576.9 819.3,604.3 819.5,597.7 819.8,597.4 820.1,595.8 820.4,584.3 820.7,600.5 820.9,592.9 821.2,588.7 821.5,590.4 821.8,590.3 822.1,586.2 822.3,604.1 822.6,585.3 822.9,583.0 823.2,586.3 823.4,587.0 823.7,580.0 824.0,616.0 824.3,606.5 824.6,602.0 824.8,600.6 825.1,604.2 825.4,579.9 825.7,597.7 826.0,590.4 826.2,596.7 826.5,590.3 826.8,604.9 827.1,596.2 827.4,581.9 827.6,584.8 827.9,601.0 828.2,594.1 828.5,589.9 828.7,586.6 829.0,584.7 829.3,592.6 829.6,574.2 829.9,566.3 830.1,570.6 830.4,573.7 830.7,573.8 831.0,600.3 831.3,588.9 831.5,586.7 831.8,592.9 832.1,607.6 832.4,595.0 832.6,584.0 832.9,587.0 833.2,591.6 833.5,575.3 833.8,577.3 834.0,584.7 834.3,574.3 834.6,608.4"/>
<polyline stroke="#ef3b3b" points="110.0,570.3 110.3,585.2 110.6,593.2 110.8,576.1 111.1,594.0 111.4,588.5 111.7,584.6 112.0,590.8 112.2,590.7 112.5,580.8 112.8,587.0 113.1,564.9 113.3,591.8 113.6,591.0 113.9,580.6 114.2,577.0 114.5,571.8 114.7,591.7 115.0,582.8 115.3,601.4 115.6,588.0 115.9,595.8 116.1,583.6 116.4,581.1 116.7,592.3 117.0,593.9 117.2,587.9 117.5,603.3 117.8,583.2 118.1,623.3 118.4,602.2 118.6,598.0 118.9,598.4 119.2,598.4 119.5,605.8 119.8,614.7 120.0,601.2 120.3,583.6 120.6,587.5 120.9,574.0 121.2,581.6 121.4,578.1 121.7,602.2 122.0,602.0 122.3,592.4 122.5,581.7 122.8,594.7 123.1,597.3 123.4,582.0 123.7,605.0 123.9,582.6 124.2,595.2 124.5,598.0 124.8,609.2 125.1,593.5 125.3,595.6 125.6,578.2 125.9,597.7 126.2,583.2 126.4,620.4 126.7,591.9 127.0,568.9 127.3,586.8 127.6,590.7 127.8,568.7 128.1,591.9 128.4,594.2 128.7,587.2 129.0,586.9 129.2,590.0 129.5,602.4 129.8,596.7 130.1,595.5 130.4,577.1 130.6,598.6 130.9,592.8 131.2,593.4 131.5,594.5 131.7,596.1 132.0,598.7 132.3,595.2 132.6,612.3 132.9,607.0 133.1,595.1 133.4,598.0 133.7,595.1 134.0,598.6 134.3,594.9 134.5,584.2 134.8,570.8 135.1,591.2 135.4,576.7 135.6,593.3 135.9,588.6 136.2,579.8 136.5,583.5 136.8,592.8 137.0,586.8 137.3,579.1 137.6,599.1 137.9,603.4 138.2,596.9 138.4,586.3 138.7,581.1 139.0,584.0 139.3,581.3 139.6,577.6 139.8,598.0 140.1,589.8 140.4,577.1 140.7,593.0 140.9,568.2 141.2,587.9 141.5,599.3 141.8,599.2 142.1,592.6 142.3,606.2 142.6,609.5 142.9,606.2 143.2,589.3 143.5,603.6 143.7,592.3 144.0,566.5 144.3,603.1 144.6,583.4 144.8,577.8 145.1,584.2 145.4,599.1 145.7,592.5 146.0,579.9 146.2,596.0 146.5,609.7 146.8,570.4 147.1,593.3 147.4,583.9 147.6,614.7 147.9,594.3 148.2,585.0 148.5,586.6 148.8,595.4 149.0,606.9 149.3,576.6 149.6,597.7 149.9,617.7 150.1,582.7 150.4,609.2 150.7,596.1 151.0,592.7 151.3,601.5 151.5,587.3 151.8,592.4 152.1,580.6 152.4,583.8 152.7,587.0 152.9,589.6 153.2,597.1 153.5,580.5 153.8,602.9 154.1,559.7 154.3,590.7 154.6,572.0 154.9,590.6 155.2,589.9 155.4,584.6 155.7,581.6 156.0,572.0 156.3,584.6 156.6,577.0 156.8,580.7 157.1,590.6 157.4,577.5 157.7,597.0 158.0,591.8 158.2,589.3 158.5,570.2 158.8,587.4 159.1,578.2 159.3,590.1 159.6,578.7 159.9,598.2 160.2,585.1 160.5,592.4 160.7,579.9 161.0,596.1 161.3,609.6 161.6,596.3 161.9,574.0 162.1,589.1 162.4,581.9 162.7,596.3 163.0,578.5 163.3,584.9 163.5,595.1 163.8,569.1 164.1,581.0 164.4,597.4 164.6,592.4 164.9,584.2 165.2,568.1 165.5,579.7 165.8,586.8 166.0,571.6 166.3,575.5 166.6,572.0 166.9,589.2 167.2,579.1 167.4,606.8 167.7,585.4 168.0,601.7 168.3,604.9 168.5,596.6 168.8,587.9 169.1,587.5 169.4,578.5 169.7,591.9 169.9,578.2 170.2,583.9 170.5,579.7 170.8,566.6 171.1,569.1 171.3,568.1 171.6,600.0 171.9,595.4 172.2,583.7 172.5,589.5 172.7,619.6 173.0,618.6 173.3,597.7 173.6,590.8 173.8,610.4 174.1,600.1 174.4,596.9 174.7,577.6 175.0,591.7 175.2,572.8 175.5,581.5 175.8,585.5 176.1,596.5 176.4,592.2 176.6,573.1 176.9,591.7 177.2,582.8 177.5,599.4 177.7,619.9 178.0,606.1 178.3,578.1 178.6,581.5 178.9,596.3 179.1,603.6 179.4,562.8 179.7,590.3 180.0,591.4 180.3,604.3 180.5,573.4 180.8,594.4 181.1,597.1 181.4,608.2 181.7,589.0 181.9,590.4 182.2,605.3 182.5,596.0 182.8,603.9 183.0,604.4 183.3,576.3 183.6,604.2 183.9,588.4 184.2,581.2 184.4,582.0 184.7,594.4 185.0,589.3 185.3,591.0 185.6,607.0 185.8,594.6 186.1,578.0 186.4,587.6 186.7,586.4 186.9,566.2 187.2,592.5 187.5,606.6 187.8,579.0 188.1,595.4 188.3,603.6 188.6,601.6 188.9,609.8 189.2,594.7 189.5,598.2 189.7,597.7 190.0,576.8 190.3,589.4 190.6,572.3 190.9,607.3 191.1,602.8 191.4,608.7 191.7,584.8 192.0,581.3 192.2,584.1 192.5,572.0 192.8,568.3 193.1,582.3 193.4,572.4 193.6,586.4 193.9,588.0 194.2,581.1 194.5,621.8 194.8,578.3 195.0,575.2 195.3,571.2 195.6,581.7 195.9,599.4 196.1,599.4 196.4,591.7 196.7,575.9 197.0,584.2 197.3,586.1 197.5,613.1 197.8,572.4 198.1,578.8 198.4,593.3 198.7,597.6 198.9,583.7 199.2,586.4 199.5,598.6 199.8,602.7 200.1,598.7 200.3,585.6 200.6,606.6 200.9,593.8 201.2,583.2 201.4,597.2 201.7,599.3 202.0,600.6 202.3,584.0 202.6,598.8 202.8,579.0 203.1,563.7 203.4,605.3 203.7,602.6 204.0,585.2 204.2,582.5 204.5,565.2 204.8,587.3 205.1,578.9 205.3,580.3 205.6,615.5 205.9,539.6 206.2,585.0 206.5,610.2 206.7,614.5 207.0,596.5 207.3,581.7 207.6,595.7 207.9,590.0 208.1,606.8 208.4,602.7 208.7,588.8 209.0,591.0 209.3,597.0 209.5,613.9 209.8,597.1 210.1,591.1 210.4,588.3 210.6,600.9 210.9,579.0 211.2,590.8 211.5,584.6 211.8,601.0 212.0,594.3 212.3,588.8 212.6,582.9 212.9,602.2 213.2,590.0 213.4,577.0 213.7,600.6 214.0,592.5 214.3,582.1 214.5,594.5 214.8,595.2 215.1,593.5 215.4,590.6 215.7,582.0 215.9,552.5 216.2,601.6 216.5,591.2 216.8,598.6 217.1,597.0 217.3,591.9 217.6,592.5 217.9,615.1 218.2,601.6 218.5,604.4 218.7,607.5 219.0,594.1 219.3,608.1 219.6,596.6 219.8,593.4 220.1,596.4 220.4,594.2 220.7,604.3 221.0,584.0 221.2,596.6 221.5,579.5 221.8,576.4 222.1,582.3 222.4,594.4 222.6,588.8 222.9,590.1 223.2,590.6 223.5,594.7 223.8,583.2 224.0,591.8 224.3,595.0 224.6,593.8 224.9,598.5 225.1,585.6 225.4,581.6 225.7,588.9 226.0,592.9 226.3,578.2 226.5,609.8 226.8,584.3 227.1,589.0 227.4,582.2 227.7,611.2 227.9,588.3 228.2,568.7 228.5,574.7 228.8,594.7 229.0,585.3 229.3,574.3 229.6,579.6 229.9,582.6 230.2,604.9 230.4,558.2 230.7,602.8 231.0,583.4 231.3,572.6 231.6,588.5 231.8,586.0 232.1,569.2 232.4,576.5 232.7,574.9 233.0,596.4 233.2,603.4 233.5,589.9 233.8,588.4 234.1,589.5 234.3,590.0 234.6,600.2 234.9,579.4 235.2,590.4 235.5,580.9 235.7,564.4 236.0,587.0 236.3,614.5 236.6,565.9 236.9,605.0 237.1,599.4 237.4,588.5 237.7,581.8 238.0,584.5 238.2,590.8 238.5,597.9 238.8,596.4 239.1,576.8 239.4,571.0 239.6,548.2 239.9,567.4 240.2,561.2 240.5,584.4 240.8,564.8 241.0,566.2 241.3,577.4 241.6,573.8 241.9,566.4 242.2,554.8 242.4,568.0 242.7,564.2 243.0,545.1 243.3,562.9 243.5,580.7 243.8,609.3 244.1,578.7 244.4,568.4 244.7,597.9 244.9,559.3 245.2,567.3 245.5,571.5 245.8,574.4 246.1,558.5 246.3,558.1 246.6,580.4 246.9,567.8 247.2,552.7 247.4,563.9 247.7,584.5 248.0,584.3 248.3,543.4 248.6,584.6 248.8,582.7 249.1,591.5 249.4,572.2 249.7,557.9 250.0,551.9 250.2,565.4 250.5,571.6 250.8,573.3 251.1,568.5 251.4,580.2 251.6,578.0 251.9,569.6 252.2,557.5 252.5,583.0 252.7,574.8 253.0,576.6 253.3,545.2 253.6,571.5 253.9,570.5 254.1,562.0 254.4,570.7 254.7,564.7 255.0,581.3 255.3,584.3 255.5,562.3 255.8,577.6 256.1,578.3 256.4,563.2 256.6,575.0 256.9,554.6 257.2,569.9 257.5,584.1 257.8,580.0 258.0,568.1 258.3,582.1 258.6,599.0 258.9,589.7 259.2,582.8 259.4,580.0 259.7,593.4 260.0,561.9 260.3,559.6 260.6,566.0 260.8,551.3 261.1,565.9 261.4,591.4 261.7,551.3 261.9,567.4 262.2,572.1 262.5,556.1 262.8,562.8 263.1,544.3 263.3,569.1 263.6,556.1 263.9,563.6 264.2,548.7 264.5,565.7 264.7,572.8 265.0,534.6 265.3,577.2 265.6,563.8 265.8,533.8 266.1,557.7 266.4,558.2 266.7,553.9 267.0,529.4 267.2,539.6 267.5,553.5 267.8,565.8 268.1,561.0 268.4,574.3 268.6,556.0 268.9,578.0 269.2,561.1 269.5,537.9 269.8,558.3 270.0,573.5 270.3,547.6 270.6,550.1 270.9,554.2 271.1,547.9 271.4,551.5 271.7,566.6 272.0,550.4 272.3,512.3 272.5,521.9 272.8,543.1 273.1,532.5 273.4,566.8 273.7,538.0 273.9,540.5 274.2,552.1 274.5,527.8 274.8,545.9 275.0,522.0 275.3,515.1 275.6,524.3 275.9,529.3 276.2,524.3 276.4,538.6 276.7,540.7 277.0,523.9 277.3,525.2 277.6,541.0 277.8,556.2 278.1,545.8 278.4,549.2 278.7,560.4 279.0,542.3 279.2,549.8 279.5,545.6 279.8,543.0 280.1,527.5 280.3,529.8 280.6,526.4 280.9,545.2 281.2,547.1 281.5,529.1 281.7,542.5 282.0,530.5 282.3,546.5 282.6,514.2 282.9,533.7 283.1,520.7 283.4,521.8 283.7,547.1 284.0,533.4 284.2,567.5 284.5,549.6 284.8,565.9 285.1,538.2 285.4,553.3 285.6,566.0 285.9,539.3 286.2,548.7 286.5,534.5 286.8,519.3 287.0,535.5 287.3,547.3 287.6,537.4 287.9,526.6 288.2,513.0 288.4,530.1 288.7,541.0 289.0,534.3 289.3,528.3 289.5,521.5 289.8,526.4 290.1,536.1 290.4,493.3 290.7,509.3 290.9,490.6 291.2,497.4 291.5,519.0 291.8,486.1 292.1,507.2 292.3,482.3 292.6,508.8 292.9,523.6 293.2,511.8 293.5,499.9 293.7,488.1 294.0,510.5 294.3,527.0 294.6,515.6 294.8,507.8 295.1,516.0 295.4,560.9 295.7,515.4 296.0,462.9 296.2,485.7 296.5,495.3 296.8,517.8 297.1,514.6 297.4,502.9 297.6,508.6 297.9,491.8 298.2,511.2 298.5,519.3 298.7,505.0 299.0,515.3 299.3,512.9 299.6,507.3 299.9,502.0 300.1,499.7 300.4,496.1 300.7,499.8 301.0,515.4 301.3,509.4 301.5,494.4 301.8,526.6 302.1,503.1 302.4,518.5 302.7,501.7 302.9,514.9 303.2,511.4 303.5,523.0 303.8,494.9 304.0,486.8 304.3,513.0 304.6,515.6 304.9,512.5 305.2,528.3 305.4,492.1 305.7,479.6 306.0,512.0 306.3,490.2 306.6,492.0 306.8,518.8 307.1,505.5 307.4,519.7 307.7,507.1 307.9,486.6 308.2,491.1 308.5,489.3 308.8,470.7 309.1,496.6 309.3,497.1 309.6,496.8 309.9,519.7 310.2,470.8 310.5,509.8 310.7,482.9 311.0,496.3 311.3,470.6 311.6,493.5 311.9,488.3 312.1,465.7 312.4,490.0 312.7,478.6 313.0,465.7 313.2,480.0 313.5,496.9 313.8,473.2 314.1,478.4 314.4,488.2 314.6,458.2 314.9,453.8 315.2,469.8 315.5,460.7 315.8,459.5 316.0,485.8 316.3,450.8 316.6,465.6 316.9,478.5 317.1,478.2 317.4,470.6 317.7,496.4 318.0,500.3 318.3,467.6 318.5,467.9 318.8,458.5 319.1,453.6 319.4,465.5 319.7,468.3 319.9,456.3 320.2,469.3 320.5,476.4 320.8,481.7 321.1,473.3 321.3,449.6 321.6,443.6 321.9,457.1 322.2,448.4 322.4,458.7 322.7,447.4 323.0,442.7 323.3,440.6 323.6,469.0 323.8,449.9 324.1,473.8 324.4,443.4 324.7,446.8 325.0,485.5 325.2,463.0 325.5,476.1 325.8,476.9 326.1,460.4 326.3,476.5 326.6,470.7 326.9,442.8 327.2,451.8 327.5,468.6 327.7,450.4 328.0,453.9 328.3,451.6 328.6,484.8 328.9,468.1 329.1,482.8 329.4,452.5 329.7,468.2 330.0,441.9 330.3,461.9 330.5,482.5 330.8,446.0 331.1,462.2 331.4,448.7 331.6,429.3 331.9,450.0 332.2,441.0 332.5,441.8 332.8,447.8 333.0,443.0 333.3,436.8 333.6,447.0 333.9,466.2 334.2,433.9 334.4,433.3 334.7,416.0 335.0,430.0 335.3,434.3 335.5,440.2 335.8,435.2 336.1,411.8 336.4,443.6 336.7,420.1 336.9,416.9 337.2,413.3 337.5,413.2 337.8,417.9 338.1,436.4 338.3,427.0 338.6,414.2 338.9,402.1 339.2,402.2 339.5,386.4 339.7,425.5 340.0,413.3 340.3,393.5 340.6,408.4 340.8,411.2 341.1,411.6 341.4,402.6 341.7,407.6 342.0,410.2 342.2,384.7 342.5,403.0 342.8,423.7 343.1,409.0 343.4,391.0 343.6,425.7 343.9,392.7 344.2,408.8 344.5,422.4 344.7,408.8 345.0,404.9 345.3,383.1 345.6,413.6 345.9,387.2 346.1,396.8 346.4,382.5 346.7,391.2 347.0,404.7 347.3,360.0 347.5,398.8 347.8,395.9 348.1,361.2 348.4,421.1 348.7,406.3 348.9,383.4 349.2,414.6 349.5,396.5 349.8,385.0 350.0,422.5 350.3,348.3 350.6,389.6 350.9,434.2 351.2,388.3 351.4,409.7 351.7,383.2 352.0,386.9 352.3,408.3 352.6,414.9 352.8,415.7 353.1,372.3 353.4,414.0 353.7,382.5 353.9,380.9 354.2,374.8 354.5,384.2 354.8,375.1 355.1,385.6 355.3,375.2 355.6,379.0 355.9,375.3 356.2,362.9 356.5,380.6 356.7,368.4 357.0,358.5 357.3,372.7 357.6,358.3 357.9,354.5 358.1,372.5 358.4,371.2 358.7,375.3 359.0,361.0 359.2,397.5 359.5,384.0 359.8,386.4 360.1,382.9 360.4,377.2 360.6,372.0 360.9,383.2 361.2,386.7 361.5,379.1 361.8,340.9 362.0,365.8 362.3,357.4 362.6,340.5 362.9,350.6 363.1,354.5 363.4,348.7 363.7,335.1 364.0,339.0 364.3,344.0 364.5,355.7 364.8,347.8 365.1,361.7 365.4,351.6 365.7,364.8 365.9,332.2 366.2,346.2 366.5,327.5 366.8,350.0 367.1,345.7 367.3,333.1 367.6,334.5 367.9,342.5 368.2,328.7 368.4,327.1 368.7,313.9 369.0,310.4 369.3,314.6 369.6,316.7 369.8,294.6 370.1,313.9 370.4,324.1 370.7,296.3 371.0,302.1 371.2,304.8 371.5,322.2 371.8,310.7 372.1,275.5 372.4,304.9 372.6,305.8 372.9,338.0 373.2,347.5 373.5,357.0 373.7,349.8 374.0,368.7 374.3,370.1 374.6,326.5 374.9,362.1 375.1,324.1 375.4,338.1 375.7,332.8 376.0,342.1 376.3,340.1 376.5,338.9 376.8,332.2 377.1,338.4 377.4,327.8 377.6,348.8 377.9,330.0 378.2,321.1 378.5,316.4 378.8,319.8 379.0,307.8 379.3,320.1 379.6,291.6 379.9,282.9 380.2,283.7 380.4,277.0 380.7,271.0 381.0,253.1 381.3,254.8 381.6,249.9 381.8,236.5 382.1,235.6 382.4,236.6 382.7,226.1 382.9,259.9 383.2,254.4 383.5,254.7 383.8,256.8 384.1,266.1 384.3,272.9 384.6,265.0 384.9,306.6 385.2,289.4 385.5,300.4 385.7,307.6 386.0,315.1 386.3,333.8 386.6,327.9 386.8,333.4 387.1,328.6 387.4,333.7 387.7,323.5 388.0,310.0 388.2,362.3 388.5,309.5 388.8,308.0 389.1,334.7 389.4,306.7 389.6,311.2 389.9,315.1 390.2,316.1 390.5,304.4 390.8,284.0 391.0,299.0 391.3,308.2 391.6,309.0 391.9,286.2 392.1,307.6 392.4,288.8 392.7,276.7 393.0,287.9 393.3,272.1 393.5,266.5 393.8,265.5 394.1,269.5 394.4,250.6 394.7,258.4 394.9,242.1 395.2,237.7 395.5,227.8 395.8,234.6 396.0,241.0 396.3,241.4 396.6,255.7 396.9,232.7 397.2,228.7 397.4,244.2 397.7,222.4 398.0,217.1 398.3,227.4 398.6,233.9 398.8,230.3 399.1,240.4 399.4,242.9 399.7,240.8 400.0,267.2 400.2,246.3 400.5,263.1 400.8,268.1 401.1,276.6 401.3,277.7 401.6,287.1 401.9,305.5 402.2,309.9 402.5,307.8 402.7,313.8 403.0,328.3 403.3,326.0 403.6,329.4 403.9,320.5 404.1,328.2 404.4,310.7 404.7,317.6 405.0,306.5 405.2,300.8 405.5,307.4 405.8,301.1 406.1,291.8 406.4,285.3 406.6,286.3 406.9,287.9 407.2,280.1 407.5,289.3 407.8,288.7 408.0,257.2 408.3,248.4 408.6,231.4 408.9,219.8 409.2,201.9 409.4,219.2 409.7,211.5 410.0,182.2 410.3,178.5 410.5,174.0 410.8,186.8 411.1,161.3 411.4,192.2 411.7,193.4 411.9,198.1 412.2,192.7 412.5,191.2 412.8,197.5 413.1,215.6 413.3,198.3 413.6,192.4 413.9,197.0 414.2,204.9 414.4,206.8 414.7,212.4 415.0,213.2 415.3,219.0 415.6,222.6 415.8,244.9 416.1,237.1 416.4,233.4 416.7,248.4 417.0,256.1 417.2,248.8 417.5,262.1 417.8,266.8 418.1,252.7 418.4,273.6 418.6,271.7 418.9,265.0 419.2,258.1 419.5,259.8 419.7,252.8 420.0,254.4 420.3,229.6 420.6,219.5 420.9,233.5 421.1,211.4 421.4,235.0 421.7,209.8 422.0,226.6 422.3,232.0 422.5,225.1 422.8,215.2 423.1,199.8 423.4,207.8 423.6,194.0 423.9,181.4 424.2,182.8 424.5,173.6 424.8,192.4 425.0,183.2 425.3,179.5 425.6,189.4 425.9,203.8 426.2,209.5 426.4,200.8 426.7,202.4 427.0,215.5 427.3,178.3 427.6,221.8 427.8,224.2 428.1,223.0 428.4,227.5 428.7,234.1 428.9,232.2 429.2,238.4 429.5,244.1 429.8,237.6 430.1,232.6 430.3,226.7 430.6,234.5 430.9,243.0 431.2,223.8 431.5,216.6 431.7,228.9 432.0,221.3 432.3,206.3 432.6,210.5 432.8,205.5 433.1,189.5 433.4,188.9 433.7,173.7 434.0,187.9 434.2,195.2 434.5,199.2 434.8,198.4 435.1,204.1 435.4,199.1 435.6,192.1 435.9,212.0 436.2,207.6 436.5,209.2 436.8,199.8 437.0,185.8 437.3,201.2 437.6,177.3 437.9,173.3 438.1,215.1 438.4,191.1 438.7,200.5 439.0,173.6 439.3,182.2 439.5,181.9 439.8,188.5 440.1,181.9 440.4,183.6 440.7,162.6 440.9,162.0 441.2,166.4 441.5,163.0 441.8,161.9 442.1,151.4 442.3,159.7 442.6,160.4 442.9,151.4 443.2,152.9 443.4,152.6 443.7,160.4 444.0,159.4 444.3,155.9 444.6,153.9 444.8,159.3 445.1,159.2 445.4,172.3 445.7,162.3 446.0,171.2 446.2,175.0 446.5,169.8 446.8,163.6 447.1,167.4 447.3,176.8 447.6,175.5 447.9,181.6 448.2,175.9 448.5,188.1 448.7,194.0 449.0,195.4 449.3,203.1 449.6,191.3 449.9,187.3 450.1,178.1 450.4,173.2 450.7,185.6 451.0,203.5 451.3,165.2 451.5,172.1 451.8,162.9 452.1,176.7 452.4,173.1 452.6,167.6 452.9,163.4 453.2,160.1 453.5,143.4 453.8,150.3 454.0,155.8 454.3,147.5 454.6,144.6 454.9,147.5 455.2,138.7 455.4,136.0 455.7,137.8 456.0,134.4 456.3,146.0 456.5,139.6 456.8,135.6 457.1,133.3 457.4,141.7 457.7,136.3 457.9,143.9 458.2,145.8 458.5,124.8 458.8,146.5 459.1,147.6 459.3,170.1 459.6,157.1 459.9,171.6 460.2,177.9 460.5,181.9 460.7,178.0 461.0,186.0 461.3,177.3 461.6,176.3 461.8,178.2 462.1,182.8 462.4,180.9 462.7,166.9 463.0,175.3 463.2,186.6 463.5,197.4 463.8,163.3 464.1,162.9 464.4,154.1 464.6,163.7 464.9,152.9 465.2,143.2 465.5,149.1 465.7,136.5 466.0,137.3 466.3,124.8 466.6,124.2 466.9,125.7 467.1,124.4 467.4,132.3 467.7,118.9 468.0,130.7 468.3,129.2 468.5,127.3 468.8,139.0 469.1,133.7 469.4,123.5 469.7,150.5 469.9,150.1 470.2,135.1 470.5,144.1 470.8,139.1 471.0,159.4 471.3,157.0 471.6,147.4 471.9,165.6 472.2,168.8 472.4,174.6 472.7,170.6 473.0,173.8 473.3,174.3 473.6,160.5 473.8,159.3 474.1,171.8 474.4,141.8 474.7,165.8 474.9,154.5 475.2,158.2 475.5,136.3 475.8,147.5 476.1,138.3 476.3,135.5 476.6,139.6 476.9,154.7 477.2,130.2 477.5,139.6 477.7,115.3 478.0,120.9 478.3,128.8 478.6,119.4 478.9,145.8 479.1,128.0 479.4,131.9 479.7,123.3 480.0,129.1 480.2,124.1 480.5,122.0 480.8,145.9 481.1,132.3 481.4,143.9 481.6,128.6 481.9,148.1 482.2,147.4 482.5,151.1 482.8,151.3 483.0,157.2 483.3,145.1 483.6,153.1 483.9,166.7 484.1,152.3 484.4,166.5 484.7,152.4 485.0,151.4 485.3,157.8 485.5,162.3 485.8,160.0 486.1,155.2 486.4,161.3 486.7,169.6 486.9,159.5 487.2,162.6 487.5,165.3 487.8,171.2 488.1,155.3 488.3,155.5 488.6,148.7 488.9,147.1 489.2,134.6 489.4,128.4 489.7,115.3 490.0,118.5 490.3,117.6 490.6,89.3 490.8,113.2 491.1,107.1 491.4,104.1 491.7,103.6 492.0,104.6 492.2,93.0 492.5,102.5 492.8,104.0 493.1,102.0 493.3,91.3 493.6,104.3 493.9,117.1 494.2,119.6 494.5,124.9 494.7,127.6 495.0,125.4 495.3,107.8 495.6,145.2 495.9,148.3 496.1,160.3 496.4,158.8 496.7,147.0 497.0,161.1 497.3,158.6 497.5,162.0 497.8,169.7 498.1,174.6 498.4,172.0 498.6,170.1 498.9,164.9 499.2,160.5 499.5,161.8 499.8,160.2 500.0,155.4 500.3,154.4 500.6,151.4 500.9,145.0 501.2,148.3 501.4,137.8 501.7,146.0 502.0,148.3 502.3,138.7 502.5,139.1 502.8,134.1 503.1,133.1 503.4,138.8 503.7,145.9 503.9,144.9 504.2,130.2 504.5,134.2 504.8,133.5 505.1,144.0 505.3,138.7 505.6,146.9 505.9,152.9 506.2,152.4 506.5,160.0 506.7,170.6 507.0,179.4 507.3,160.6 507.6,182.0 507.8,165.6 508.1,173.4 508.4,166.7 508.7,167.2 509.0,166.5 509.2,168.3 509.5,162.2 509.8,138.5 510.1,162.3 510.4,161.0 510.6,149.9 510.9,160.7 511.2,162.7 511.5,153.1 511.8,157.5 512.0,143.7 512.3,149.0 512.6,137.0 512.9,145.5 513.1,146.5 513.4,138.7 513.7,145.2 514.0,154.6 514.3,134.3 514.5,139.2 514.8,144.8 515.1,144.0 515.4,157.3 515.7,135.2 515.9,140.2 516.2,144.3 516.5,149.7 516.8,159.5 517.0,163.6 517.3,165.3 517.6,178.9 517.9,176.0 518.2,191.7 518.4,173.5 518.7,184.2 519.0,190.9 519.3,191.3 519.6,200.0 519.8,211.3 520.1,198.2 520.4,197.9 520.7,188.6 521.0,188.7 521.2,184.5 521.5,188.0 521.8,147.7 522.1,198.2 522.3,176.0 522.6,172.2 522.9,193.7 523.2,173.5 523.5,181.5 523.7,194.9 524.0,181.3 524.3,180.5 524.6,175.6 524.9,182.4 525.1,179.4 525.4,185.1 525.7,183.8 526.0,185.5 526.2,207.0 526.5,184.5 526.8,160.4 527.1,171.8 527.4,169.1 527.6,169.3 527.9,161.7 528.2,171.9 528.5,169.6 528.8,161.5 529.0,166.3 529.3,167.6 529.6,167.1 529.9,173.7 530.2,169.2 530.4,178.9 530.7,165.1 531.0,179.5 531.3,184.2 531.5,189.9 531.8,191.1 532.1,200.6 532.4,204.2 532.7,199.6 532.9,210.9 533.2,206.2 533.5,196.9 533.8,200.1 534.1,196.9 534.3,212.4 534.6,202.2 534.9,187.2 535.2,201.8 535.4,179.0 535.7,203.8 536.0,205.4 536.3,203.1 536.6,217.1 536.8,210.7 537.1,188.2 537.4,222.2 537.7,200.7 538.0,192.2 538.2,204.1 538.5,191.8 538.8,206.5 539.1,208.1 539.4,204.7 539.6,195.7 539.9,217.7 540.2,205.1 540.5,205.2 540.7,189.1 541.0,212.6 541.3,212.2 541.6,210.2 541.9,227.0 542.1,213.7 542.4,236.4 542.7,223.7 543.0,238.6 543.3,217.1 543.5,210.9 543.8,209.1 544.1,225.8 544.4,227.4 544.6,219.4 544.9,226.9 545.2,198.0 545.5,232.7 545.8,237.4 546.0,227.2 546.3,242.6 546.6,237.5 546.9,224.8 547.2,233.4 547.4,218.4 547.7,228.2 548.0,213.8 548.3,244.1 548.6,240.6 548.8,236.3 549.1,230.8 549.4,238.0 549.7,222.0 549.9,242.8 550.2,238.6 550.5,219.7 550.8,241.5 551.1,229.4 551.3,214.2 551.6,244.0 551.9,248.9 552.2,263.1 552.5,262.6 552.7,250.0 553.0,288.5 553.3,266.3 553.6,265.6 553.8,257.4 554.1,277.8 554.4,254.8 554.7,242.0 555.0,244.3 555.2,224.1 555.5,261.2 555.8,251.4 556.1,258.1 556.4,265.9 556.6,263.7 556.9,282.3 557.2,286.0 557.5,264.5 557.8,290.1 558.0,285.5 558.3,270.4 558.6,281.0 558.9,271.5 559.1,280.8 559.4,290.2 559.7,303.8 560.0,281.9 560.3,301.0 560.5,312.4 560.8,314.7 561.1,310.2 561.4,306.1 561.7,304.6 561.9,301.6 562.2,327.4 562.5,296.2 562.8,289.5 563.0,287.9 563.3,302.2 563.6,318.8 563.9,287.1 564.2,298.2 564.4,299.9 564.7,314.4 565.0,349.8 565.3,319.0 565.6,328.5 565.8,296.4 566.1,344.3 566.4,335.3 566.7,329.2 567.0,335.7 567.2,330.9 567.5,338.6 567.8,335.1 568.1,348.8 568.3,328.4 568.6,308.2 568.9,321.1 569.2,309.9 569.5,324.3 569.7,310.3 570.0,336.8 570.3,336.0 570.6,326.0 570.9,317.4 571.1,327.4 571.4,318.9 571.7,322.7 572.0,312.8 572.2,343.0 572.5,316.3 572.8,326.2 573.1,332.1 573.4,304.2 573.6,332.5 573.9,336.1 574.2,330.7 574.5,337.8 574.8,332.1 575.0,340.9 575.3,332.6 575.6,336.7 575.9,353.7 576.2,341.3 576.4,347.9 576.7,350.5 577.0,356.5 577.3,334.4 577.5,344.8 577.8,368.7 578.1,372.7 578.4,342.2 578.7,368.3 578.9,374.6 579.2,374.8 579.5,386.6 579.8,389.9 580.1,358.9 580.3,391.8 580.6,417.0 580.9,425.4 581.2,393.4 581.5,378.1 581.7,407.1 582.0,416.4 582.3,390.5 582.6,408.5 582.8,400.1 583.1,405.7 583.4,394.3 583.7,373.2 584.0,365.7 584.2,375.6 584.5,375.0 584.8,372.7 585.1,385.3 585.4,365.7 585.6,364.5 585.9,350.1 586.2,369.0 586.5,358.1 586.7,354.5 587.0,344.5 587.3,358.1 587.6,374.6 587.9,372.5 588.1,367.8 588.4,379.5 588.7,382.7 589.0,404.0 589.3,368.1 589.5,382.7 589.8,390.3 590.1,384.0 590.4,393.2 590.7,396.2 590.9,405.0 591.2,429.7 591.5,385.3 591.8,410.5 592.0,397.3 592.3,415.5 592.6,419.8 592.9,424.3 593.2,431.5 593.4,427.6 593.7,388.9 594.0,423.4 594.3,406.7 594.6,430.6 594.8,410.0 595.1,426.0 595.4,410.9 595.7,405.7 595.9,408.3 596.2,415.6 596.5,442.5 596.8,421.6 597.1,412.0 597.3,408.6 597.6,429.5 597.9,416.1 598.2,404.8 598.5,411.0 598.7,424.1 599.0,422.0 599.3,421.2 599.6,456.1 599.9,421.2 600.1,420.3 600.4,464.9 600.7,456.4 601.0,466.7 601.2,485.2 601.5,479.8 601.8,502.8 602.1,472.2 602.4,481.3 602.6,481.9 602.9,468.8 603.2,438.7 603.5,475.6 603.8,486.8 604.0,462.2 604.3,474.4 604.6,468.4 604.9,469.4 605.1,457.8 605.4,451.8 605.7,479.8 606.0,463.6 606.3,433.3 606.5,455.8 606.8,436.5 607.1,417.7 607.4,426.5 607.7,427.2 607.9,429.9 608.2,434.8 608.5,451.5 608.8,459.2 609.1,432.3 609.3,436.7 609.6,439.6 609.9,469.8 610.2,452.0 610.4,452.9 610.7,466.2 611.0,453.7 611.3,474.6 611.6,503.5 611.8,494.3 612.1,473.1 612.4,474.0 612.7,488.8 613.0,484.3 613.2,494.1 613.5,489.5 613.8,468.8 614.1,511.6 614.3,496.8 614.6,471.0 614.9,478.4 615.2,473.4 615.5,484.0 615.7,503.5 616.0,470.3 616.3,456.6 616.6,434.9 616.9,456.7 617.1,479.1 617.4,465.8 617.7,496.3 618.0,475.0 618.3,505.2 618.5,484.3 618.8,508.6 619.1,516.5 619.4,497.0 619.6,506.1 619.9,533.0 620.2,531.2 620.5,537.8 620.8,505.4 621.0,552.6 621.3,549.7 621.6,530.6 621.9,528.0 622.2,554.0 622.4,515.7 622.7,544.1 623.0,533.4 623.3,540.5 623.5,546.1 623.8,526.0 624.1,548.8 624.4,532.1 624.7,503.1 624.9,537.9 625.2,535.5 625.5,522.1 625.8,521.7 626.1,526.0 626.3,510.2 626.6,527.7 626.9,512.6 627.2,497.6 627.5,497.5 627.7,489.9 628.0,518.8 628.3,478.4 628.6,488.7 628.8,509.6 629.1,516.5 629.4,517.5 629.7,499.5 630.0,510.2 630.2,520.6 630.5,518.2 630.8,521.6 631.1,534.4 631.4,565.6 631.6,548.0 631.9,547.8 632.2,530.4 632.5,527.9 632.7,560.7 633.0,563.0 633.3,532.1 633.6,552.3 633.9,560.4 634.1,521.8 634.4,547.3 634.7,565.2 635.0,524.7 635.3,520.0 635.5,549.0 635.8,524.1 636.1,521.9 636.4,523.3 636.7,522.8 636.9,524.9 637.2,492.5 637.5,509.5 637.8,526.8 638.0,513.0 638.3,507.3 638.6,524.1 638.9,519.1 639.2,533.8 639.4,521.1 639.7,524.9 640.0,538.9 640.3,523.0 640.6,560.7 640.8,551.8 641.1,551.5 641.4,542.3 641.7,544.0 641.9,547.8 642.2,570.8 642.5,576.5 642.8,557.8 643.1,562.7 643.3,548.8 643.6,572.3 643.9,558.7 644.2,563.0 644.5,549.7 644.7,558.3 645.0,539.3 645.3,557.0 645.6,549.2 645.9,553.5 646.1,551.6 646.4,568.4 646.7,574.3 647.0,560.8 647.2,577.9 647.5,576.0 647.8,570.3 648.1,553.0 648.4,573.0 648.6,553.2 648.9,544.9 649.2,570.5 649.5,551.9 649.8,581.6 650.0,562.2 650.3,541.0 650.6,543.9 650.9,571.4 651.1,563.5 651.4,564.6 651.7,575.0 652.0,562.0 652.3,571.1 652.5,536.6 652.8,565.1 653.1,559.3 653.4,586.6 653.7,560.6 653.9,552.1 654.2,559.4 654.5,568.1 654.8,558.9 655.1,583.8 655.3,571.4 655.6,555.3 655.9,561.2 656.2,563.5 656.4,574.0 656.7,582.5 657.0,576.8 657.3,570.6 657.6,588.3 657.8,588.6 658.1,569.7 658.4,567.0 658.7,574.8 659.0,580.9 659.2,584.0 659.5,573.1 659.8,572.6 660.1,568.5 660.4,572.0 660.6,579.4 660.9,570.7 661.2,577.1 661.5,587.4 661.7,578.2 662.0,576.3 662.3,580.7 662.6,572.9 662.9,594.1 663.1,594.5 663.4,576.5 663.7,608.7 664.0,569.8 664.3,571.2 664.5,571.7 664.8,595.7 665.1,560.7 665.4,556.7 665.6,582.0 665.9,576.9 666.2,570.8 666.5,582.6 666.8,586.1 667.0,586.5 667.3,595.3 667.6,590.2 667.9,565.9 668.2,578.9 668.4,596.8 668.7,574.8 669.0,581.5 669.3,571.7 669.6,575.3 669.8,580.5 670.1,562.3 670.4,589.2 670.7,553.7 670.9,556.7 671.2,581.6 671.5,560.5 671.8,582.9 672.1,594.0 672.3,607.3 672.6,585.6 672.9,582.7 673.2,570.9 673.5,607.7 673.7,590.9 674.0,586.3 674.3,598.8 674.6,607.4 674.8,599.8 675.1,610.5 675.4,575.3 675.7,608.4 676.0,604.4 676.2,593.6 676.5,584.7 676.8,574.9 677.1,604.0 677.4,580.6 677.6,590.1 677.9,588.4 678.2,600.1 678.5,600.6 678.8,594.8 679.0,594.4 679.3,589.1 679.6,594.6 679.9,590.7 680.1,580.6 680.4,582.2 680.7,601.7 681.0,610.7 681.3,581.9 681.5,580.2 681.8,597.9 682.1,593.0 682.4,596.8 682.7,584.7 682.9,593.1 683.2,584.3 683.5,570.6 683.8,589.5 684.0,600.2 684.3,582.5 684.6,605.8 684.9,594.4 685.2,579.3 685.4,588.6 685.7,601.4 686.0,592.6 686.3,575.8 686.6,585.3 686.8,584.7 687.1,596.6 687.4,587.7 687.7,571.9 688.0,585.3 688.2,584.2 688.5,578.8 688.8,587.3 689.1,579.3 689.3,606.5 689.6,581.3 689.9,596.1 690.2,593.2 690.5,595.4 690.7,588.6 691.0,596.2 691.3,587.9 691.6,592.9 691.9,586.3 692.1,590.3 692.4,576.0 692.7,599.0 693.0,598.0 693.2,598.2 693.5,598.2 693.8,607.6 694.1,593.9 694.4,590.6 694.6,605.1 694.9,580.8 695.2,590.3 695.5,580.8 695.8,582.6 696.0,580.2 696.3,588.9 696.6,581.0 696.9,580.8 697.2,577.9 697.4,590.2 697.7,601.1 698.0,585.7 698.3,587.2 698.5,586.0 698.8,580.2 699.1,591.3 699.4,581.2 699.7,595.8 699.9,592.6 700.2,607.5 700.5,618.4 700.8,620.1 701.1,595.8 701.3,599.0 701.6,598.6 701.9,598.5 702.2,609.3 702.4,562.9 702.7,609.3 703.0,593.6 703.3,599.4 703.6,588.2 703.8,584.3 704.1,592.2 704.4,580.6 704.7,582.7 705.0,583.1 705.2,579.4 705.5,583.5 705.8,577.2 706.1,577.7 706.4,590.4 706.6,609.9 706.9,595.7 707.2,582.1 707.5,596.3 707.7,590.2 708.0,607.0 708.3,600.4 708.6,589.3 708.9,610.5 709.1,582.1 709.4,572.3 709.7,553.0 710.0,577.4 710.3,588.2 710.5,576.0 710.8,579.9 711.1,575.0 711.4,581.6 711.6,584.6 711.9,585.7 712.2,595.6 712.5,601.7 712.8,586.0 713.0,587.6 713.3,605.5 713.6,601.5 713.9,593.1 714.2,587.8 714.4,605.7 714.7,603.2 715.0,599.4 715.3,595.2 715.6,609.4 715.8,587.5 716.1,591.0 716.4,580.8 716.7,593.4 716.9,602.6 717.2,593.8 717.5,597.8 717.8,592.5 718.1,603.7 718.3,573.2 718.6,583.6 718.9,594.6 719.2,578.5 719.5,587.4 719.7,576.1 720.0,576.6 720.3,564.4 720.6,566.8 720.8,579.6 721.1,578.4 721.4,575.8 721.7,582.0 722.0,576.9 722.2,582.9 722.5,592.8 722.8,586.8 723.1,588.9 723.4,606.5 723.6,597.7 723.9,588.1 724.2,590.3 724.5,593.2 724.8,587.9 725.0,573.2 725.3,571.4 725.6,559.7 725.9,592.4 726.1,581.6 726.4,588.4 726.7,589.6 727.0,608.9 727.3,606.3 727.5,585.0 727.8,594.5 728.1,594.9 728.4,591.6 728.7,615.6 728.9,619.1 729.2,598.9 729.5,595.1 729.8,591.6 730.1,602.2 730.3,585.1 730.6,582.5 730.9,587.8 731.2,579.4 731.4,597.0 731.7,592.7 732.0,591.2 732.3,603.7 732.6,583.3 732.8,579.8 733.1,577.5 733.4,571.9 733.7,584.1 734.0,585.0 734.2,566.3 734.5,600.1 734.8,579.7 735.1,580.0 735.3,572.5 735.6,585.9 735.9,598.6 736.2,620.2 736.5,580.2 736.7,598.9 737.0,561.9 737.3,589.3 737.6,599.2 737.9,592.1 738.1,607.4 738.4,613.9 738.7,604.9 739.0,614.6 739.3,588.2 739.5,602.7 739.8,601.0 740.1,613.6 740.4,586.2 740.6,585.4 740.9,583.0 741.2,582.0 741.5,585.8 741.8,585.1 742.0,554.4 742.3,580.5 742.6,582.9 742.9,591.1 743.2,586.4 743.4,588.0 743.7,572.0 744.0,579.6 744.3,576.3 744.5,591.3 744.8,602.9 745.1,625.2 745.4,607.1 745.7,601.9 745.9,578.0 746.2,590.4 746.5,583.9 746.8,602.9 747.1,599.9 747.3,577.9 747.6,591.8 747.9,579.8 748.2,584.2 748.5,585.2 748.7,593.4 749.0,588.6 749.3,561.2 749.6,597.3 749.8,602.0 750.1,610.1 750.4,581.5 750.7,587.9 751.0,579.8 751.2,598.4 751.5,588.3 751.8,591.7 752.1,587.4 752.4,570.7 752.6,594.0 752.9,589.8 753.2,608.6 753.5,587.9 753.7,598.2 754.0,583.8 754.3,599.7 754.6,587.1 754.9,585.2 755.1,587.6 755.4,593.4 755.7,585.2 756.0,596.6 756.3,578.6 756.5,590.9 756.8,575.5 757.1,601.3 757.4,608.0 757.7,583.3 757.9,608.2 758.2,576.8 758.5,589.7 758.8,573.8 759.0,606.3 759.3,565.0 759.6,569.2 759.9,567.4 760.2,570.7 760.4,562.8 760.7,582.3 761.0,570.3 761.3,567.0 761.6,585.8 761.8,587.1 762.1,589.0 762.4,579.3 762.7,575.3 762.9,595.1 763.2,594.4 763.5,601.5 763.8,616.5 764.1,592.8 764.3,583.8 764.6,608.9 764.9,577.8 765.2,585.0 765.5,587.0 765.7,594.5 766.0,587.6 766.3,585.6 766.6,590.4 766.9,586.4 767.1,590.8 767.4,577.4 767.7,574.4 768.0,560.9 768.2,600.5 768.5,580.2 768.8,577.0 769.1,575.7 769.4,580.5 769.6,592.1 769.9,582.0 770.2,583.8 770.5,582.9 770.8,582.5 771.0,577.3 771.3,574.8 771.6,589.8 771.9,597.8 772.1,604.0 772.4,611.0 772.7,600.8 773.0,608.0 773.3,584.4 773.5,581.9 773.8,598.9 774.1,577.8 774.4,588.6 774.7,595.6 774.9,585.0 775.2,598.3 775.5,591.3 775.8,581.7 776.1,600.5 776.3,598.9 776.6,603.5 776.9,595.1 777.2,590.3 777.4,587.1 777.7,578.3 778.0,594.5 778.3,559.4 778.6,588.6 778.8,591.6 779.1,586.4 779.4,585.0 779.7,590.1 780.0,575.5 780.2,559.2 780.5,588.5 780.8,598.7 781.1,587.8 781.3,611.1 781.6,604.0 781.9,588.6 782.2,600.5 782.5,578.8 782.7,581.7 783.0,596.7 783.3,592.5 783.6,592.2 783.9,590.8 784.1,583.2 784.4,604.2 784.7,608.2 785.0,591.7 785.3,607.5 785.5,592.8 785.8,601.5 786.1,594.5 786.4,619.6 786.6,594.5 786.9,617.3 787.2,581.7 787.5,595.7 787.8,596.1 788.0,591.9 788.3,585.6 788.6,583.7 788.9,585.2 789.2,605.7 789.4,591.5 789.7,586.0 790.0,584.8 790.3,594.0 790.5,596.5 790.8,606.3 791.1,585.4 791.4,586.1 791.7,593.9 791.9,597.0 792.2,617.1 792.5,583.8 792.8,585.9 793.1,584.8 793.3,596.6 793.6,584.7 793.9,577.0 794.2,628.1 794.5,619.9 794.7,598.4 795.0,609.1 795.3,601.3 795.6,593.6 795.8,606.1 796.1,592.1 796.4,619.1 796.7,573.9 797.0,607.4 797.2,593.9 797.5,597.5 797.8,586.3 798.1,603.0 798.4,594.5 798.6,603.4 798.9,605.2 799.2,598.7 799.5,630.4 799.8,587.7 800.0,599.7 800.3,599.5 800.6,608.0 800.9,600.6 801.1,604.6 801.4,581.8 801.7,596.4 802.0,587.0 802.3,597.4 802.5,585.8 802.8,576.9 803.1,574.4 803.4,597.3 803.7,582.6 803.9,593.5 804.2,585.3 804.5,598.2 804.8,591.4 805.0,585.3 805.3,589.7 805.6,578.5 805.9,589.5 806.2,586.5 806.4,586.5 806.7,579.0 807.0,592.8 807.3,566.4 807.6,574.3 807.8,591.8 808.1,587.8 808.4,613.3 808.7,591.0 809.0,587.8 809.2,604.8 809.5,590.4 809.8,597.4 810.1,605.9 810.3,603.6 810.6,604.9 810.9,596.5 811.2,603.7 811.5,603.4 811.7,582.5 812.0,592.3 812.3,603.7 812.6,588.7 812.9,574.4 813.1,598.6 813.4,598.1 813.7,582.7 814.0,593.7 814.2,610.7 814.5,601.4 814.8,572.7 815.1,604.0 815.4,603.5 815.6,610.1 815.9,588.4 816.2,583.8 816.5,587.8 816.8,583.4 817.0,588.9 817.3,602.4 817.6,589.3 817.9,595.6 818.2,580.3 818.4,586.8 818.7,570.8 819.0,591.9 819.3,607.7 819.5,594.9 819.8,601.5 820.1,600.4 820.4,607.1 820.7,583.1 820.9,592.6 821.2,599.4 821.5,605.7 821.8,597.1 822.1,585.0 822.3,572.6 822.6,597.1 822.9,580.9 823.2,580.8 823.4,590.6 823.7,595.6 824.0,597.3 824.3,576.8 824.6,569.8 824.8,587.2 825.1,599.3 825.4,584.4 825.7,587.7 826.0,599.6 826.2,590.0 826.5,582.9 826.8,578.2 827.1,613.0 827.4,609.4 827.6,598.8 827.9,590.6 828.2,603.4 828.5,611.0 828.7,594.0 829.0,591.7 829.3,581.5 829.6,578.3 829.9,603.8 830.1,592.4 830.4,591.7 830.7,581.3 831.0,567.9 831.3,602.8 831.5,575.1 831.8,590.1 832.1,580.4 832.4,609.1 832.6,591.3 832.9,590.7 833.2,602.3 833.5,580.5 833.8,590.2 834.0,598.0 834.3,599.5 834.6,588.2"/>
<polyline stroke="#1565dd" points="110.0,582.3 110.3,611.2 110.6,563.2 110.8,591.6 111.1,613.8 111.4,587.1 111.7,591.4 112.0,629.7 112.2,592.2 112.5,613.6 112.8,615.2 113.1,595.3 113.3,610.8 113.6,621.2 113.9,608.9 114.2,606.8 114.5,598.1 114.7,603.8 115.0,592.6 115.3,589.9 115.6,592.9 115.9,592.4 116.1,610.2 116.4,589.6 116.7,602.7 117.0,608.2 117.2,593.2 117.5,608.7 117.8,594.0 118.1,575.0 118.4,591.7 118.6,611.8 118.9,616.3 119.2,604.7 119.5,611.7 119.8,597.2 120.0,615.1 120.3,610.6 120.6,608.8 120.9,586.9 121.2,583.6 121.4,597.4 121.7,586.8 122.0,597.3 122.3,588.2 122.5,604.8 122.8,592.7 123.1,599.1 123.4,594.9 123.7,600.1 123.9,601.1 124.2,584.4 124.5,603.8 124.8,607.9 125.1,591.5 125.3,605.5 125.6,595.7 125.9,585.0 126.2,593.2 126.4,597.1 126.7,584.6 127.0,570.2 127.3,600.9 127.6,582.7 127.8,585.0 128.1,586.3 128.4,589.2 128.7,603.8 129.0,595.8 129.2,602.3 129.5,594.3 129.8,599.9 130.1,610.1 130.4,618.6 130.6,616.4 130.9,592.4 131.2,590.1 131.5,581.4 131.7,591.9 132.0,589.6 132.3,577.6 132.6,571.2 132.9,579.9 133.1,572.7 133.4,564.6 133.7,597.7 134.0,596.9 134.3,591.1 134.5,593.2 134.8,589.3 135.1,585.5 135.4,597.8 135.6,568.8 135.9,603.3 136.2,592.2 136.5,615.3 136.8,597.3 137.0,591.2 137.3,586.8 137.6,585.4 137.9,604.3 138.2,596.4 138.4,583.8 138.7,610.8 139.0,608.7 139.3,595.7 139.6,600.2 139.8,593.1 140.1,595.1 140.4,573.7 140.7,578.4 140.9,585.9 141.2,573.9 141.5,603.1 141.8,576.6 142.1,591.1 142.3,592.3 142.6,594.4 142.9,590.6 143.2,603.8 143.5,593.5 143.7,587.7 144.0,592.8 144.3,589.4 144.6,596.7 144.8,597.3 145.1,605.4 145.4,606.2 145.7,607.2 146.0,598.1 146.2,597.7 146.5,595.0 146.8,597.2 147.1,596.0 147.4,598.5 147.6,591.9 147.9,602.2 148.2,600.9 148.5,608.4 148.8,587.9 149.0,599.8 149.3,596.7 149.6,589.0 149.9,595.9 150.1,581.8 150.4,594.1 150.7,578.6 151.0,598.6 151.3,581.7 151.5,601.9 151.8,588.3 152.1,600.7 152.4,593.0 152.7,603.4 152.9,611.6 153.2,589.4 153.5,578.4 153.8,596.2 154.1,599.6 154.3,612.3 154.6,599.9 154.9,589.9 155.2,582.2 155.4,599.6 155.7,593.2 156.0,568.8 156.3,588.9 156.6,587.1 156.8,598.9 157.1,591.1 157.4,606.7 157.7,617.8 158.0,604.8 158.2,594.0 158.5,591.3 158.8,590.9 159.1,587.1 159.3,587.0 159.6,592.4 159.9,595.9 160.2,610.1 160.5,581.0 160.7,600.2 161.0,594.3 161.3,594.0 161.6,603.5 161.9,625.7 162.1,570.1 162.4,581.3 162.7,572.8 163.0,595.0 163.3,584.0 163.5,592.0 163.8,618.8 164.1,603.2 164.4,601.7 164.6,610.2 164.9,585.2 165.2,582.9 165.5,605.0 165.8,592.7 166.0,598.3 166.3,604.2 166.6,589.4 166.9,584.3 167.2,599.7 167.4,595.9 167.7,592.7 168.0,584.6 168.3,592.2 168.5,589.8 168.8,589.0 169.1,576.2 169.4,576.1 169.7,591.9 169.9,588.6 170.2,597.4 170.5,602.5 170.8,588.2 171.1,600.4 171.3,603.9 171.6,600.2 171.9,592.4 172.2,590.0 172.5,594.9 172.7,571.3 173.0,586.7 173.3,610.0 173.6,587.4 173.8,573.2 174.1,582.2 174.4,580.6 174.7,591.2 175.0,600.6 175.2,580.1 175.5,598.2 175.8,576.4 176.1,562.0 176.4,573.5 176.6,587.9 176.9,586.3 177.2,576.2 177.5,583.7 177.7,583.4 178.0,611.2 178.3,597.5 178.6,576.2 178.9,586.7 179.1,592.7 179.4,619.9 179.7,595.0 180.0,590.9 180.3,584.7 180.5,586.0 180.8,595.8 181.1,581.0 181.4,587.3 181.7,556.7 181.9,578.8 182.2,587.5 182.5,593.7 182.8,602.9 183.0,586.8 183.3,588.1 183.6,612.6 183.9,595.7 184.2,567.2 184.4,593.3 184.7,596.5 185.0,592.1 185.3,560.6 185.6,595.6 185.8,600.0 186.1,580.9 186.4,599.2 186.7,599.3 186.9,605.1 187.2,608.2 187.5,571.8 187.8,622.5 188.1,604.6 188.3,589.1 188.6,584.4 188.9,597.6 189.2,582.5 189.5,599.6 189.7,595.8 190.0,593.9 190.3,596.0 190.6,574.1 190.9,602.6 191.1,590.9 191.4,585.1 191.7,601.4 192.0,598.5 192.2,596.0 192.5,587.0 192.8,578.3 193.1,601.1 193.4,594.9 193.6,595.2 193.9,588.6 194.2,587.0 194.5,598.7 194.8,597.4 195.0,579.4 195.3,600.9 195.6,596.2 195.9,593.3 196.1,589.7 196.4,604.6 196.7,601.9 197.0,600.1 197.3,601.2 197.5,591.6 197.8,609.6 198.1,587.2 198.4,589.5 198.7,592.6 198.9,587.3 199.2,579.6 199.5,591.4 199.8,570.3 200.1,581.9 200.3,590.5 200.6,605.5 200.9,609.5 201.2,587.3 201.4,585.8 201.7,616.0 202.0,607.2 202.3,590.4 202.6,590.1 202.8,590.0 203.1,611.7 203.4,606.4 203.7,610.3 204.0,595.4 204.2,580.2 204.5,575.7 204.8,602.4 205.1,607.6 205.3,590.3 205.6,582.3 205.9,582.8 206.2,594.3 206.5,601.2 206.7,615.6 207.0,610.9 207.3,612.6 207.6,619.4 207.9,598.4 208.1,607.2 208.4,612.3 208.7,614.3 209.0,592.3 209.3,595.9 209.5,586.4 209.8,600.8 210.1,594.4 210.4,587.4 210.6,585.4 210.9,617.2 211.2,563.3 211.5,589.0 211.8,597.5 212.0,591.0 212.3,587.2 212.6,579.5 212.9,563.9 213.2,606.0 213.4,575.9 213.7,568.2 214.0,590.1 214.3,570.9 214.5,582.1 214.8,577.1 215.1,581.5 215.4,577.2 215.7,597.5 215.9,616.3 216.2,611.8 216.5,593.4 216.8,595.6 217.1,605.5 217.3,599.2 217.6,609.8 217.9,603.5 218.2,597.5 218.5,611.6 218.7,599.9 219.0,596.4 219.3,606.2 219.6,584.6 219.8,567.4 220.1,590.3 220.4,570.0 220.7,583.5 221.0,586.2 221.2,571.5 221.5,591.8 221.8,593.2 222.1,608.3 222.4,604.4 222.6,594.4 222.9,586.1 223.2,584.8 223.5,602.3 223.8,596.1 224.0,597.1 224.3,611.4 224.6,586.2 224.9,586.5 225.1,581.5 225.4,591.2 225.7,577.5 226.0,602.1 226.3,607.2 226.5,601.8 226.8,597.5 227.1,599.1 227.4,607.6 227.7,598.3 227.9,577.5 228.2,587.9 228.5,606.4 228.8,571.6 229.0,582.0 229.3,568.0 229.6,580.7 229.9,581.0 230.2,569.4 230.4,581.5 230.7,571.1 231.0,591.6 231.3,579.7 231.6,579.6 231.8,573.1 232.1,616.1 232.4,576.6 232.7,581.1 233.0,596.9 233.2,576.7 233.5,593.7 233.8,593.6 234.1,583.4 234.3,579.1 234.6,579.0 234.9,570.4 235.2,584.6 235.5,565.9 235.7,605.7 236.0,575.3 236.3,584.1 236.6,575.4 236.9,572.8 237.1,592.0 237.4,590.8 237.7,576.1 238.0,576.3 238.2,590.5 238.5,611.9 238.8,596.6 239.1,589.4 239.4,596.8 239.6,604.3 239.9,601.1 240.2,582.8 240.5,578.6 240.8,576.1 241.0,576.9 241.3,595.7 241.6,580.9 241.9,586.6 242.2,561.5 242.4,571.6 242.7,575.7 243.0,579.0 243.3,568.4 243.5,578.0 243.8,575.2 244.1,578.6 244.4,565.2 244.7,573.7 244.9,572.2 245.2,570.6 245.5,567.2 245.8,556.8 246.1,591.4 246.3,593.0 246.6,608.2 246.9,574.4 247.2,567.1 247.4,587.6 247.7,570.4 248.0,538.5 248.3,585.5 248.6,557.3 248.8,557.0 249.1,572.7 249.4,566.4 249.7,540.0 250.0,570.5 250.2,581.8 250.5,573.7 250.8,566.4 251.1,571.5 251.4,554.2 251.6,565.5 251.9,574.3 252.2,577.6 252.5,573.2 252.7,584.1 253.0,555.1 253.3,560.3 253.6,561.3 253.9,551.3 254.1,562.9 254.4,543.4 254.7,573.9 255.0,577.6 255.3,569.2 255.5,582.3 255.8,596.3 256.1,575.6 256.4,585.8 256.6,570.5 256.9,576.0 257.2,590.1 257.5,590.3 257.8,574.9 258.0,567.6 258.3,576.0 258.6,583.8 258.9,586.3 259.2,573.5 259.4,566.4 259.7,561.7 260.0,555.7 260.3,554.7 260.6,553.6 260.8,557.0 261.1,565.4 261.4,555.8 261.7,558.1 261.9,551.3 262.2,532.0 262.5,570.2 262.8,557.0 263.1,541.0 263.3,551.6 263.6,546.0 263.9,544.1 264.2,570.5 264.5,560.9 264.7,567.3 265.0,575.9 265.3,564.1 265.6,569.1 265.8,561.6 266.1,563.4 266.4,567.9 266.7,561.0 267.0,559.2 267.2,550.2 267.5,566.8 267.8,577.4 268.1,562.8 268.4,559.3 268.6,559.7 268.9,523.0 269.2,550.9 269.5,565.2 269.8,542.3 270.0,546.9 270.3,547.7 270.6,548.9 270.9,567.9 271.1,533.2 271.4,532.2 271.7,564.7 272.0,541.9 272.3,542.9 272.5,540.8 272.8,536.3 273.1,551.5 273.4,537.6 273.7,546.8 273.9,552.6 274.2,539.5 274.5,542.7 274.8,540.7 275.0,567.3 275.3,535.5 275.6,514.0 275.9,536.8 276.2,518.5 276.4,543.8 276.7,547.5 277.0,546.5 277.3,537.3 277.6,552.3 277.8,547.5 278.1,564.7 278.4,569.9 278.7,534.2 279.0,539.8 279.2,545.3 279.5,545.8 279.8,541.0 280.1,542.4 280.3,558.2 280.6,537.8 280.9,537.7 281.2,548.8 281.5,549.6 281.7,533.6 282.0,520.3 282.3,551.7 282.6,552.2 282.9,555.9 283.1,545.3 283.4,524.9 283.7,529.8 284.0,555.2 284.2,530.9 284.5,545.5 284.8,557.4 285.1,541.9 285.4,543.7 285.6,534.4 285.9,556.7 286.2,551.2 286.5,532.5 286.8,574.5 287.0,557.5 287.3,539.6 287.6,540.6 287.9,530.7 288.2,533.7 288.4,530.4 288.7,531.8 289.0,530.0 289.3,509.6 289.5,514.1 289.8,525.0 290.1,539.2 290.4,539.5 290.7,536.5 290.9,538.9 291.2,521.5 291.5,534.9 291.8,526.4 292.1,495.8 292.3,532.6 292.6,505.3 292.9,526.2 293.2,516.3 293.5,544.4 293.7,527.6 294.0,547.4 294.3,548.6 294.6,513.2 294.8,517.6 295.1,484.6 295.4,520.8 295.7,509.5 296.0,508.6 296.2,515.2 296.5,516.0 296.8,507.1 297.1,504.1 297.4,525.1 297.6,511.0 297.9,512.1 298.2,509.1 298.5,496.8 298.7,496.5 299.0,480.1 299.3,486.4 299.6,505.7 299.9,508.0 300.1,490.3 300.4,507.3 300.7,483.4 301.0,515.1 301.3,499.7 301.5,515.9 301.8,528.1 302.1,488.1 302.4,510.3 302.7,493.4 302.9,520.9 303.2,523.4 303.5,515.5 303.8,512.9 304.0,517.8 304.3,518.3 304.6,516.2 304.9,507.9 305.2,517.8 305.4,498.8 305.7,495.8 306.0,523.8 306.3,498.6 306.6,503.0 306.8,467.3 307.1,504.0 307.4,503.5 307.7,501.9 307.9,506.4 308.2,511.8 308.5,529.0 308.8,497.2 309.1,511.4 309.3,509.3 309.6,509.3 309.9,535.6 310.2,505.6 310.5,486.1 310.7,495.9 311.0,489.4 311.3,498.3 311.6,476.2 311.9,501.3 312.1,489.8 312.4,479.9 312.7,489.3 313.0,493.1 313.2,487.6 313.5,511.9 313.8,494.4 314.1,480.1 314.4,467.8 314.6,490.8 314.9,492.9 315.2,490.2 315.5,485.9 315.8,501.2 316.0,502.2 316.3,478.9 316.6,476.0 316.9,464.7 317.1,471.0 317.4,477.5 317.7,481.6 318.0,467.2 318.3,474.9 318.5,480.3 318.8,476.2 319.1,489.6 319.4,468.2 319.7,474.3 319.9,463.6 320.2,466.7 320.5,455.6 320.8,448.0 321.1,462.6 321.3,462.9 321.6,444.7 321.9,456.5 322.2,460.8 322.4,461.0 322.7,465.8 323.0,447.5 323.3,464.5 323.6,457.4 323.8,463.2 324.1,452.8 324.4,465.2 324.7,477.6 325.0,484.0 325.2,478.2 325.5,471.5 325.8,472.0 326.1,466.7 326.3,473.8 326.6,449.4 326.9,458.4 327.2,483.6 327.5,487.8 327.7,475.9 328.0,458.3 328.3,462.2 328.6,474.9 328.9,477.4 329.1,470.6 329.4,465.6 329.7,422.7 330.0,463.9 330.3,455.3 330.5,434.5 330.8,447.6 331.1,442.5 331.4,459.1 331.6,449.4 331.9,445.0 332.2,466.4 332.5,459.7 332.8,461.4 333.0,427.6 333.3,450.7 333.6,446.1 333.9,425.7 334.2,442.5 334.4,391.0 334.7,452.0 335.0,451.4 335.3,429.5 335.5,439.3 335.8,422.3 336.1,396.5 336.4,405.1 336.7,420.6 336.9,412.6 337.2,418.5 337.5,415.7 337.8,429.3 338.1,409.9 338.3,429.5 338.6,420.7 338.9,393.5 339.2,418.6 339.5,400.8 339.7,417.4 340.0,421.1 340.3,422.1 340.6,398.3 340.8,428.9 341.1,440.9 341.4,422.2 341.7,416.6 342.0,422.7 342.2,378.9 342.5,363.7 342.8,435.9 343.1,432.4 343.4,423.5 343.6,413.6 343.9,423.3 344.2,455.8 344.5,461.2 344.7,430.4 345.0,440.1 345.3,419.1 345.6,433.0 345.9,410.6 346.1,415.4 346.4,389.9 346.7,413.1 347.0,421.5 347.3,393.8 347.5,419.6 347.8,403.7 348.1,413.0 348.4,402.8 348.7,425.0 348.9,386.5 349.2,417.4 349.5,388.0 349.8,387.5 350.0,378.4 350.3,398.1 350.6,408.8 350.9,410.9 351.2,402.6 351.4,414.3 351.7,398.8 352.0,422.0 352.3,403.4 352.6,390.2 352.8,429.8 353.1,418.4 353.4,410.5 353.7,391.0 353.9,394.8 354.2,421.9 354.5,406.5 354.8,409.5 355.1,409.3 355.3,408.3 355.6,401.6 355.9,401.0 356.2,423.4 356.5,388.5 356.7,385.2 357.0,392.1 357.3,398.5 357.6,410.2 357.9,403.4 358.1,407.0 358.4,371.9 358.7,415.7 359.0,373.3 359.2,375.0 359.5,370.6 359.8,379.3 360.1,375.0 360.4,370.9 360.6,359.4 360.9,350.9 361.2,363.8 361.5,396.5 361.8,368.7 362.0,363.6 362.3,370.4 362.6,375.7 362.9,360.9 363.1,359.4 363.4,360.5 363.7,340.5 364.0,367.3 364.3,359.3 364.5,375.6 364.8,359.0 365.1,361.7 365.4,356.1 365.7,351.2 365.9,346.2 366.2,337.3 366.5,379.0 366.8,348.4 367.1,366.0 367.3,365.9 367.6,351.9 367.9,346.6 368.2,346.9 368.4,350.0 368.7,352.9 369.0,346.5 369.3,333.2 369.6,337.6 369.8,333.0 370.1,315.3 370.4,308.4 370.7,324.4 371.0,316.3 371.2,314.7 371.5,323.1 371.8,327.0 372.1,357.0 372.4,344.6 372.6,365.5 372.9,351.8 373.2,330.1 373.5,358.9 373.7,350.5 374.0,372.7 374.3,358.8 374.6,367.5 374.9,396.2 375.1,368.9 375.4,351.1 375.7,358.4 376.0,364.8 376.3,368.9 376.5,340.3 376.8,358.1 377.1,344.2 377.4,321.5 377.6,330.2 377.9,348.1 378.2,333.5 378.5,346.0 378.8,318.3 379.0,343.7 379.3,318.3 379.6,324.0 379.9,324.3 380.2,305.1 380.4,292.9 380.7,277.6 381.0,276.1 381.3,255.3 381.6,250.4 381.8,244.3 382.1,253.7 382.4,280.1 382.7,282.3 382.9,272.8 383.2,255.2 383.5,301.3 383.8,275.0 384.1,278.3 384.3,294.5 384.6,313.4 384.9,300.4 385.2,311.0 385.5,318.5 385.7,291.7 386.0,346.6 386.3,310.5 386.6,343.6 386.8,319.4 387.1,351.1 387.4,353.3 387.7,347.0 388.0,347.4 388.2,365.2 388.5,358.4 388.8,279.6 389.1,333.9 389.4,337.0 389.6,334.0 389.9,313.2 390.2,342.0 390.5,334.2 390.8,335.7 391.0,327.9 391.3,296.9 391.6,316.7 391.9,302.9 392.1,325.4 392.4,292.1 392.7,284.0 393.0,289.0 393.3,317.5 393.5,290.3 393.8,302.5 394.1,296.0 394.4,262.1 394.7,261.2 394.9,279.9 395.2,268.9 395.5,260.0 395.8,263.3 396.0,260.0 396.3,246.0 396.6,259.5 396.9,227.2 397.2,249.0 397.4,245.9 397.7,235.0 398.0,228.6 398.3,230.6 398.6,255.2 398.8,258.5 399.1,244.0 399.4,272.7 399.7,272.5 400.0,253.5 400.2,274.6 400.5,273.7 400.8,277.5 401.1,301.5 401.3,291.0 401.6,317.0 401.9,329.7 402.2,301.3 402.5,327.9 402.7,306.0 403.0,324.7 403.3,334.3 403.6,302.8 403.9,329.8 404.1,316.8 404.4,315.2 404.7,317.3 405.0,315.6 405.2,314.9 405.5,309.9 405.8,310.7 406.1,300.3 406.4,291.6 406.6,297.0 406.9,279.2 407.2,288.2 407.5,269.6 407.8,272.0 408.0,264.4 408.3,246.5 408.6,257.0 408.9,249.1 409.2,231.1 409.4,242.6 409.7,239.8 410.0,229.6 410.3,214.1 410.5,200.5 410.8,208.5 411.1,203.4 411.4,190.2 411.7,194.1 411.9,211.4 412.2,223.4 412.5,200.6 412.8,206.9 413.1,242.5 413.3,206.0 413.6,206.9 413.9,219.1 414.2,212.4 414.4,228.4 414.7,231.3 415.0,236.1 415.3,241.5 415.6,250.9 415.8,252.6 416.1,270.7 416.4,275.5 416.7,267.5 417.0,278.4 417.2,282.7 417.5,295.6 417.8,279.8 418.1,283.9 418.4,288.0 418.6,286.2 418.9,298.4 419.2,288.0 419.5,272.9 419.7,256.9 420.0,277.7 420.3,261.7 420.6,263.3 420.9,266.7 421.1,249.2 421.4,245.4 421.7,215.6 422.0,242.2 422.3,219.7 422.5,245.3 422.8,217.7 423.1,219.6 423.4,238.8 423.6,201.8 423.9,197.2 424.2,206.3 424.5,216.5 424.8,194.1 425.0,213.7 425.3,211.3 425.6,213.2 425.9,233.3 426.2,227.5 426.4,233.1 426.7,240.7 427.0,237.9 427.3,243.1 427.6,228.1 427.8,256.9 428.1,241.3 428.4,237.8 428.7,243.8 428.9,258.0 429.2,244.1 429.5,238.1 429.8,254.7 430.1,236.4 430.3,244.7 430.6,260.2 430.9,246.7 431.2,258.4 431.5,260.2 431.7,244.2 432.0,236.7 432.3,235.1 432.6,224.6 432.8,197.8 433.1,226.5 433.4,209.5 433.7,201.8 434.0,183.8 434.2,226.9 434.5,204.9 434.8,186.8 435.1,203.6 435.4,203.1 435.6,208.3 435.9,215.6 436.2,213.4 436.5,214.6 436.8,223.3 437.0,228.7 437.3,216.7 437.6,214.8 437.9,209.9 438.1,206.5 438.4,182.5 438.7,205.9 439.0,203.0 439.3,219.3 439.5,200.1 439.8,206.6 440.1,200.5 440.4,193.4 440.7,193.9 440.9,197.6 441.2,196.9 441.5,197.5 441.8,181.5 442.1,178.7 442.3,183.4 442.6,169.4 442.9,179.3 443.2,171.5 443.4,168.9 443.7,172.3 444.0,173.7 444.3,179.9 444.6,184.0 444.8,177.2 445.1,183.7 445.4,190.8 445.7,183.0 446.0,192.8 446.2,195.3 446.5,186.5 446.8,185.5 447.1,202.5 447.3,211.9 447.6,206.6 447.9,200.9 448.2,207.4 448.5,212.8 448.7,222.0 449.0,206.4 449.3,199.1 449.6,225.7 449.9,204.1 450.1,211.8 450.4,191.2 450.7,214.3 451.0,199.6 451.3,190.9 451.5,197.7 451.8,196.9 452.1,194.1 452.4,187.7 452.6,191.6 452.9,202.1 453.2,176.1 453.5,183.2 453.8,181.5 454.0,171.3 454.3,166.2 454.6,163.2 454.9,149.0 455.2,141.3 455.4,152.0 455.7,139.4 456.0,161.0 456.3,154.9 456.5,147.9 456.8,155.1 457.1,159.7 457.4,152.2 457.7,162.9 457.9,154.8 458.2,167.2 458.5,160.9 458.8,160.3 459.1,175.4 459.3,186.3 459.6,183.1 459.9,182.8 460.2,191.1 460.5,187.5 460.7,181.5 461.0,200.6 461.3,185.0 461.6,194.1 461.8,199.8 462.1,207.7 462.4,206.4 462.7,210.8 463.0,207.7 463.2,202.4 463.5,210.8 463.8,190.2 464.1,206.3 464.4,190.6 464.6,180.5 464.9,170.1 465.2,164.8 465.5,156.9 465.7,173.0 466.0,158.0 466.3,157.5 466.6,155.2 466.9,147.4 467.1,150.8 467.4,155.4 467.7,160.0 468.0,152.9 468.3,149.8 468.5,152.9 468.8,165.9 469.1,146.6 469.4,165.9 469.7,159.5 469.9,164.8 470.2,171.0 470.5,172.8 470.8,182.1 471.0,182.1 471.3,187.3 471.6,188.0 471.9,177.5 472.2,194.8 472.4,193.2 472.7,196.7 473.0,202.0 473.3,184.8 473.6,191.8 473.8,196.8 474.1,177.6 474.4,193.8 474.7,184.7 474.9,187.7 475.2,187.3 475.5,189.6 475.8,182.4 476.1,174.5 476.3,175.9 476.6,163.4 476.9,162.1 477.2,150.4 477.5,155.0 477.7,159.9 478.0,147.3 478.3,145.5 478.6,147.9 478.9,152.4 479.1,133.6 479.4,147.8 479.7,145.5 480.0,144.6 480.2,141.8 480.5,166.8 480.8,152.2 481.1,145.7 481.4,151.6 481.6,159.0 481.9,165.0 482.2,166.4 482.5,178.5 482.8,154.9 483.0,166.3 483.3,162.5 483.6,165.9 483.9,188.5 484.1,179.6 484.4,183.0 484.7,187.9 485.0,180.0 485.3,191.8 485.5,184.5 485.8,198.0 486.1,189.5 486.4,196.5 486.7,193.8 486.9,200.3 487.2,188.4 487.5,190.7 487.8,186.0 488.1,183.6 488.3,160.4 488.6,173.1 488.9,172.8 489.2,160.6 489.4,168.9 489.7,163.1 490.0,149.6 490.3,149.7 490.6,140.2 490.8,141.4 491.1,164.5 491.4,142.2 491.7,130.4 492.0,129.5 492.2,134.2 492.5,136.4 492.8,133.8 493.1,140.9 493.3,134.7 493.6,141.0 493.9,144.4 494.2,152.1 494.5,147.8 494.7,166.5 495.0,149.3 495.3,164.3 495.6,157.2 495.9,160.1 496.1,171.6 496.4,174.0 496.7,183.7 497.0,193.8 497.3,187.6 497.5,188.0 497.8,193.6 498.1,182.2 498.4,194.5 498.6,199.3 498.9,195.9 499.2,198.1 499.5,188.3 499.8,193.3 500.0,192.4 500.3,164.5 500.6,173.7 500.9,182.9 501.2,171.5 501.4,178.3 501.7,169.3 502.0,156.8 502.3,160.9 502.5,160.1 502.8,125.3 503.1,147.1 503.4,156.4 503.7,159.0 503.9,153.6 504.2,154.1 504.5,149.4 504.8,157.5 505.1,156.3 505.3,153.6 505.6,146.6 505.9,158.3 506.2,168.4 506.5,164.2 506.7,180.2 507.0,159.3 507.3,189.4 507.6,189.2 507.8,173.6 508.1,193.6 508.4,200.9 508.7,184.7 509.0,193.4 509.2,200.3 509.5,188.1 509.8,183.9 510.1,185.5 510.4,187.1 510.6,179.8 510.9,172.2 511.2,182.5 511.5,174.2 511.8,179.6 512.0,145.9 512.3,136.0 512.6,169.2 512.9,154.1 513.1,159.3 513.4,155.5 513.7,158.7 514.0,160.0 514.3,163.0 514.5,166.6 514.8,168.2 515.1,174.0 515.4,158.2 515.7,167.7 515.9,161.5 516.2,170.7 516.5,197.5 516.8,194.9 517.0,183.2 517.3,188.9 517.6,188.0 517.9,179.5 518.2,189.3 518.4,189.7 518.7,194.3 519.0,197.4 519.3,200.6 519.6,199.4 519.8,211.4 520.1,219.3 520.4,204.8 520.7,199.9 521.0,207.5 521.2,202.6 521.5,189.7 521.8,196.6 522.1,196.8 522.3,189.1 522.6,202.4 522.9,202.4 523.2,167.1 523.5,189.2 523.7,210.0 524.0,205.9 524.3,205.0 524.6,197.6 524.9,192.7 525.1,196.2 525.4,190.9 525.7,196.5 526.0,192.7 526.2,191.9 526.5,187.2 526.8,180.3 527.1,192.2 527.4,191.4 527.6,208.4 527.9,188.8 528.2,193.0 528.5,199.3 528.8,211.5 529.0,192.0 529.3,213.2 529.6,197.0 529.9,200.0 530.2,201.2 530.4,213.6 530.7,222.4 531.0,211.3 531.3,201.8 531.5,209.6 531.8,197.1 532.1,204.1 532.4,198.8 532.7,231.2 532.9,208.7 533.2,221.8 533.5,224.0 533.8,238.4 534.1,233.8 534.3,224.9 534.6,222.9 534.9,250.4 535.2,240.6 535.4,239.1 535.7,235.2 536.0,243.1 536.3,230.0 536.6,220.1 536.8,243.0 537.1,240.4 537.4,232.3 537.7,223.7 538.0,221.4 538.2,237.3 538.5,232.5 538.8,219.7 539.1,228.0 539.4,235.4 539.6,235.9 539.9,225.5 540.2,227.3 540.5,229.6 540.7,231.0 541.0,219.7 541.3,239.6 541.6,256.9 541.9,234.3 542.1,224.8 542.4,233.2 542.7,243.4 543.0,229.7 543.3,251.5 543.5,251.1 543.8,248.6 544.1,243.4 544.4,253.4 544.6,235.0 544.9,222.3 545.2,234.7 545.5,239.9 545.8,263.3 546.0,269.5 546.3,263.2 546.6,246.3 546.9,259.9 547.2,249.7 547.4,273.5 547.7,259.6 548.0,271.5 548.3,258.1 548.6,250.2 548.8,219.9 549.1,270.2 549.4,257.7 549.7,263.8 549.9,272.2 550.2,253.0 550.5,260.7 550.8,259.6 551.1,266.1 551.3,292.1 551.6,278.6 551.9,279.4 552.2,284.5 552.5,297.4 552.7,275.0 553.0,273.6 553.3,277.9 553.6,276.1 553.8,289.7 554.1,283.9 554.4,287.1 554.7,286.0 555.0,299.0 555.2,300.2 555.5,292.4 555.8,311.8 556.1,313.5 556.4,311.3 556.6,324.9 556.9,307.6 557.2,279.7 557.5,302.8 557.8,308.8 558.0,245.7 558.3,281.9 558.6,297.4 558.9,289.3 559.1,307.7 559.4,289.5 559.7,320.7 560.0,310.4 560.3,311.2 560.5,309.5 560.8,298.3 561.1,324.3 561.4,313.5 561.7,338.9 561.9,313.3 562.2,291.6 562.5,339.0 562.8,305.6 563.0,288.4 563.3,313.0 563.6,301.9 563.9,298.5 564.2,321.1 564.4,308.5 564.7,323.0 565.0,320.3 565.3,325.6 565.6,315.6 565.8,332.5 566.1,365.8 566.4,367.7 566.7,338.5 567.0,350.0 567.2,341.1 567.5,326.7 567.8,349.9 568.1,338.6 568.3,346.5 568.6,340.7 568.9,338.0 569.2,336.4 569.5,352.2 569.7,335.2 570.0,366.5 570.3,330.1 570.6,310.8 570.9,346.6 571.1,318.6 571.4,331.9 571.7,338.7 572.0,331.3 572.2,347.0 572.5,349.3 572.8,337.9 573.1,346.7 573.4,341.3 573.6,343.7 573.9,360.9 574.2,328.4 574.5,359.5 574.8,357.6 575.0,367.0 575.3,343.3 575.6,350.6 575.9,355.6 576.2,347.5 576.4,374.6 576.7,397.0 577.0,367.0 577.3,379.0 577.5,368.7 577.8,369.5 578.1,364.9 578.4,355.6 578.7,380.3 578.9,361.6 579.2,387.1 579.5,377.4 579.8,384.5 580.1,398.8 580.3,411.1 580.6,402.1 580.9,400.9 581.2,412.8 581.5,409.9 581.7,438.4 582.0,419.0 582.3,405.8 582.6,415.0 582.8,410.3 583.1,410.8 583.4,403.2 583.7,423.1 584.0,421.9 584.2,398.3 584.5,393.2 584.8,365.9 585.1,363.8 585.4,395.8 585.6,409.2 585.9,388.9 586.2,411.5 586.5,406.5 586.7,372.0 587.0,374.7 587.3,393.0 587.6,390.4 587.9,367.4 588.1,388.5 588.4,380.4 588.7,352.5 589.0,373.3 589.3,396.3 589.5,392.1 589.8,387.4 590.1,405.5 590.4,412.3 590.7,420.3 590.9,427.9 591.2,416.4 591.5,418.9 591.8,440.7 592.0,424.8 592.3,424.6 592.6,434.1 592.9,469.5 593.2,433.9 593.4,420.5 593.7,432.6 594.0,451.8 594.3,428.5 594.6,429.5 594.8,431.5 595.1,445.5 595.4,426.9 595.7,443.1 595.9,436.2 596.2,429.3 596.5,453.0 596.8,438.5 597.1,445.8 597.3,436.2 597.6,436.5 597.9,441.3 598.2,432.2 598.5,454.1 598.7,418.2 599.0,437.7 599.3,417.8 599.6,430.6 599.9,470.5 600.1,432.3 600.4,441.3 600.7,422.8 601.0,459.6 601.2,436.6 601.5,470.4 601.8,461.5 602.1,466.6 602.4,461.6 602.6,470.8 602.9,460.3 603.2,446.8 603.5,427.8 603.8,446.7 604.0,456.9 604.3,481.3 604.6,484.7 604.9,456.2 605.1,475.1 605.4,487.3 605.7,454.3 606.0,442.1 606.3,439.6 606.5,453.7 606.8,446.8 607.1,441.0 607.4,430.8 607.7,426.2 607.9,457.8 608.2,427.1 608.5,449.6 608.8,458.5 609.1,450.8 609.3,436.9 609.6,460.6 609.9,460.0 610.2,467.5 610.4,451.0 610.7,487.2 611.0,495.3 611.3,494.4 611.6,493.8 611.8,489.3 612.1,492.8 612.4,525.2 612.7,515.9 613.0,482.3 613.2,489.5 613.5,486.5 613.8,489.8 614.1,488.1 614.3,480.5 614.6,495.7 614.9,491.5 615.2,493.7 615.5,496.2 615.7,492.5 616.0,466.9 616.3,480.3 616.6,513.3 616.9,517.9 617.1,511.8 617.4,475.8 617.7,512.2 618.0,480.9 618.3,511.0 618.5,500.2 618.8,507.7 619.1,519.3 619.4,525.6 619.6,518.6 619.9,528.1 620.2,527.3 620.5,542.9 620.8,541.1 621.0,529.4 621.3,528.7 621.6,558.7 621.9,555.4 622.2,546.5 622.4,562.3 622.7,528.9 623.0,515.3 623.3,550.1 623.5,551.0 623.8,547.7 624.1,530.4 624.4,529.8 624.7,550.0 624.9,555.2 625.2,561.7 625.5,532.1 625.8,537.1 626.1,525.2 626.3,515.2 626.6,508.7 626.9,506.0 627.2,493.9 627.5,505.7 627.7,490.8 628.0,504.8 628.3,511.4 628.6,521.7 628.8,518.6 629.1,507.1 629.4,543.6 629.7,526.6 630.0,526.8 630.2,546.8 630.5,551.8 630.8,552.7 631.1,540.2 631.4,522.6 631.6,542.5 631.9,566.6 632.2,543.9 632.5,544.2 632.7,551.4 633.0,540.8 633.3,552.5 633.6,558.2 633.9,529.9 634.1,544.9 634.4,527.2 634.7,535.8 635.0,526.5 635.3,524.7 635.5,513.4 635.8,541.6 636.1,525.5 636.4,521.4 636.7,509.7 636.9,513.9 637.2,511.5 637.5,533.7 637.8,513.6 638.0,517.9 638.3,515.2 638.6,534.2 638.9,533.6 639.2,523.9 639.4,518.4 639.7,542.3 640.0,543.3 640.3,562.2 640.6,549.4 640.8,556.5 641.1,549.4 641.4,541.5 641.7,531.9 641.9,549.5 642.2,560.2 642.5,557.7 642.8,555.0 643.1,547.9 643.3,546.1 643.6,542.8 643.9,560.1 644.2,524.5 644.5,558.8 644.7,550.9 645.0,569.3 645.3,554.1 645.6,546.0 645.9,559.7 646.1,545.7 646.4,556.7 646.7,539.3 647.0,555.6 647.2,557.6 647.5,534.4 647.8,539.1 648.1,549.5 648.4,554.1 648.6,530.2 648.9,554.7 649.2,538.0 649.5,549.1 649.8,535.4 650.0,578.4 650.3,552.9 650.6,540.5 650.9,565.1 651.1,544.2 651.4,562.6 651.7,549.5 652.0,562.9 652.3,560.6 652.5,562.8 652.8,556.1 653.1,592.8 653.4,569.5 653.7,564.3 653.9,548.0 654.2,566.3 654.5,577.1 654.8,560.0 655.1,566.5 655.3,566.4 655.6,580.9 655.9,546.3 656.2,588.4 656.4,554.3 656.7,580.8 657.0,574.5 657.3,574.0 657.6,570.3 657.8,577.1 658.1,570.4 658.4,571.0 658.7,584.7 659.0,575.1 659.2,572.8 659.5,572.8 659.8,581.3 660.1,577.1 660.4,583.5 660.6,558.0 660.9,565.4 661.2,586.1 661.5,574.8 661.7,601.5 662.0,594.8 662.3,604.1 662.6,592.8 662.9,581.8 663.1,595.8 663.4,596.4 663.7,616.5 664.0,625.4 664.3,593.8 664.5,583.4 664.8,590.1 665.1,594.5 665.4,575.8 665.6,563.1 665.9,578.5 666.2,579.7 666.5,586.5 666.8,588.9 667.0,578.7 667.3,600.6 667.6,579.9 667.9,599.2 668.2,557.8 668.4,570.0 668.7,591.3 669.0,607.3 669.3,585.5 669.6,599.3 669.8,589.2 670.1,598.1 670.4,583.8 670.7,578.8 670.9,594.0 671.2,586.3 671.5,573.2 671.8,598.6 672.1,602.8 672.3,580.4 672.6,595.9 672.9,596.2 673.2,587.8 673.5,594.5 673.7,605.1 674.0,588.5 674.3,600.4 674.6,612.9 674.8,590.0 675.1,604.7 675.4,598.0 675.7,580.6 676.0,582.6 676.2,566.4 676.5,607.8 676.8,627.5 677.1,604.1 677.4,614.7 677.6,606.5 677.9,603.2 678.2,588.2 678.5,602.8 678.8,583.1 679.0,598.0 679.3,569.5 679.6,584.5 679.9,571.6 680.1,587.6 680.4,595.3 680.7,583.1 681.0,591.9 681.3,572.2 681.5,602.3 681.8,603.4 682.1,584.0 682.4,596.5 682.7,582.7 682.9,601.1 683.2,563.7 683.5,579.7 683.8,560.5 684.0,592.6 684.3,577.5 684.6,575.3 684.9,594.4 685.2,590.6 685.4,591.6 685.7,575.6 686.0,601.5 686.3,596.2 686.6,562.2 686.8,590.3 687.1,589.4 687.4,584.6 687.7,586.8 688.0,568.3 688.2,553.0 688.5,583.2 688.8,580.7 689.1,587.9 689.3,584.7 689.6,591.8 689.9,582.9 690.2,589.6 690.5,577.6 690.7,595.8 691.0,577.2 691.3,599.0 691.6,593.9 691.9,575.7 692.1,583.6 692.4,562.2 692.7,616.0 693.0,592.1 693.2,584.0 693.5,618.3 693.8,595.3 694.1,630.2 694.4,599.4 694.6,596.3 694.9,612.5 695.2,579.7 695.5,589.7 695.8,582.8 696.0,580.3 696.3,575.9 696.6,588.5 696.9,581.2 697.2,600.3 697.4,584.0 697.7,587.6 698.0,590.3 698.3,585.6 698.5,564.0 698.8,576.4 699.1,600.9 699.4,583.3 699.7,593.1 699.9,589.0 700.2,588.2 700.5,573.9 700.8,582.7 701.1,588.3 701.3,583.2 701.6,599.2 701.9,585.1 702.2,591.2 702.4,568.9 702.7,589.9 703.0,587.9 703.3,605.1 703.6,595.3 703.8,604.1 704.1,586.1 704.4,603.2 704.7,599.9 705.0,595.4 705.2,591.8 705.5,587.8 705.8,606.3 706.1,591.2 706.4,579.7 706.6,590.9 706.9,600.2 707.2,589.5 707.5,601.4 707.7,590.5 708.0,603.4 708.3,598.3 708.6,598.5 708.9,586.6 709.1,599.9 709.4,571.0 709.7,606.0 710.0,593.5 710.3,600.4 710.5,591.3 710.8,594.3 711.1,581.5 711.4,591.7 711.6,592.9 711.9,585.1 712.2,581.2 712.5,578.8 712.8,592.4 713.0,588.8 713.3,576.3 713.6,589.7 713.9,598.1 714.2,574.6 714.4,580.3 714.7,584.2 715.0,585.5 715.3,575.0 715.6,577.9 715.8,576.6 716.1,606.6 716.4,592.7 716.7,594.7 716.9,612.4 717.2,602.1 717.5,574.7 717.8,598.5 718.1,583.6 718.3,601.6 718.6,592.4 718.9,630.7 719.2,593.1 719.5,575.2 719.7,602.0 720.0,586.9 720.3,589.8 720.6,603.7 720.8,590.7 721.1,608.8 721.4,592.9 721.7,593.5 722.0,608.6 722.2,613.9 722.5,596.1 722.8,606.4 723.1,588.8 723.4,593.0 723.6,583.7 723.9,569.1 724.2,562.8 724.5,571.8 724.8,589.8 725.0,579.4 725.3,580.4 725.6,574.4 725.9,590.8 726.1,582.4 726.4,578.8 726.7,592.1 727.0,584.0 727.3,575.0 727.5,583.3 727.8,574.1 728.1,620.4 728.4,601.8 728.7,628.6 728.9,590.4 729.2,604.4 729.5,599.0 729.8,575.2 730.1,588.4 730.3,589.1 730.6,583.6 730.9,585.8 731.2,569.2 731.4,595.8 731.7,578.5 732.0,577.0 732.3,578.3 732.6,575.2 732.8,579.5 733.1,574.6 733.4,584.3 733.7,581.8 734.0,606.9 734.2,583.3 734.5,576.1 734.8,574.3 735.1,578.9 735.3,558.1 735.6,587.8 735.9,591.7 736.2,611.5 736.5,586.0 736.7,573.0 737.0,594.7 737.3,606.6 737.6,579.7 737.9,589.8 738.1,578.2 738.4,586.1 738.7,604.5 739.0,575.3 739.3,599.5 739.5,588.2 739.8,587.5 740.1,597.5 740.4,601.6 740.6,584.3 740.9,573.0 741.2,582.2 741.5,599.5 741.8,599.2 742.0,608.1 742.3,589.5 742.6,586.2 742.9,586.2 743.2,567.8 743.4,591.1 743.7,584.4 744.0,617.8 744.3,606.6 744.5,594.7 744.8,608.6 745.1,594.8 745.4,592.4 745.7,609.5 745.9,593.9 746.2,586.1 746.5,590.3 746.8,569.8 747.1,608.1 747.3,599.2 747.6,598.5 747.9,589.5 748.2,593.2 748.5,578.1 748.7,586.5 749.0,591.8 749.3,598.4 749.6,596.5 749.8,588.2 750.1,587.9 750.4,599.6 750.7,587.4 751.0,586.3 751.2,602.7 751.5,623.2 751.8,600.5 752.1,605.1 752.4,601.8 752.6,596.7 752.9,630.0 753.2,602.7 753.5,602.3 753.7,587.6 754.0,589.3 754.3,600.5 754.6,579.1 754.9,575.1 755.1,589.8 755.4,603.0 755.7,617.7 756.0,592.1 756.3,566.4 756.5,577.9 756.8,564.9 757.1,589.2 757.4,598.7 757.7,603.5 757.9,593.9 758.2,584.6 758.5,592.2 758.8,589.5 759.0,597.1 759.3,597.0 759.6,601.8 759.9,587.5 760.2,595.2 760.4,593.2 760.7,590.0 761.0,624.6 761.3,583.3 761.6,591.5 761.8,598.2 762.1,603.8 762.4,599.7 762.7,605.4 762.9,601.7 763.2,634.7 763.5,600.7 763.8,606.5 764.1,624.5 764.3,600.7 764.6,606.1 764.9,625.8 765.2,583.2 765.5,607.7 765.7,590.9 766.0,600.8 766.3,584.8 766.6,611.3 766.9,590.7 767.1,602.8 767.4,600.9 767.7,580.9 768.0,592.9 768.2,584.0 768.5,583.7 768.8,602.6 769.1,587.7 769.4,591.6 769.6,584.6 769.9,596.1 770.2,573.0 770.5,562.3 770.8,592.5 771.0,595.6 771.3,594.1 771.6,580.7 771.9,610.4 772.1,607.6 772.4,597.3 772.7,589.5 773.0,600.6 773.3,594.6 773.5,587.7 773.8,616.0 774.1,610.7 774.4,597.9 774.7,581.1 774.9,606.5 775.2,588.5 775.5,594.0 775.8,602.7 776.1,598.7 776.3,581.9 776.6,575.8 776.9,603.6 777.2,594.7 777.4,570.9 777.7,562.1 778.0,591.0 778.3,579.3 778.6,589.7 778.8,587.3 779.1,589.5 779.4,584.7 779.7,579.3 780.0,602.0 780.2,570.0 780.5,576.0 780.8,613.8 781.1,601.3 781.3,575.0 781.6,590.2 781.9,566.8 782.2,594.7 782.5,576.7 782.7,591.8 783.0,589.6 783.3,596.7 783.6,576.6 783.9,584.9 784.1,613.7 784.4,599.7 784.7,597.9 785.0,591.8 785.3,595.4 785.5,587.9 785.8,600.4 786.1,599.6 786.4,613.0 786.6,586.9 786.9,579.9 787.2,590.1 787.5,600.7 787.8,593.2 788.0,590.1 788.3,585.4 788.6,590.3 788.9,574.3 789.2,595.9 789.4,607.3 789.7,616.6 790.0,606.1 790.3,615.5 790.5,579.8 790.8,609.2 791.1,612.1 791.4,600.3 791.7,596.9 791.9,584.7 792.2,584.6 792.5,609.1 792.8,606.5 793.1,585.9 793.3,584.2 793.6,585.1 793.9,597.2 794.2,584.3 794.5,603.1 794.7,583.8 795.0,573.1 795.3,593.1 795.6,590.2 795.8,602.6 796.1,594.1 796.4,609.6 796.7,606.4 797.0,598.0 797.2,597.7 797.5,624.2 797.8,611.8 798.1,609.3 798.4,586.1 798.6,596.0 798.9,598.1 799.2,585.6 799.5,586.2 799.8,587.1 800.0,587.7 800.3,591.2 800.6,610.0 800.9,593.1 801.1,596.0 801.4,585.7 801.7,587.0 802.0,581.7 802.3,575.3 802.5,583.7 802.8,587.0 803.1,592.9 803.4,594.5 803.7,596.5 803.9,597.2 804.2,580.9 804.5,566.0 804.8,585.9 805.0,593.7 805.3,579.2 805.6,588.2 805.9,576.8 806.2,582.0 806.4,590.3 806.7,592.2 807.0,603.6 807.3,586.1 807.6,600.8 807.8,604.2 808.1,608.1 808.4,622.6 808.7,598.7 809.0,589.4 809.2,599.8 809.5,585.0 809.8,602.8 810.1,579.2 810.3,581.1 810.6,590.0 810.9,581.2 811.2,574.9 811.5,583.0 811.7,580.9 812.0,571.5 812.3,580.3 812.6,587.6 812.9,600.2 813.1,617.4 813.4,586.2 813.7,604.3 814.0,610.3 814.2,613.7 814.5,598.3 814.8,622.9 815.1,602.7 815.4,575.0 815.6,601.7 815.9,594.3 816.2,599.8 816.5,592.6 816.8,583.7 817.0,607.0 817.3,588.7 817.6,595.2 817.9,581.8 818.2,600.4 818.4,590.3 818.7,598.8 819.0,606.7 819.3,583.1 819.5,586.2 819.8,603.6 820.1,590.0 820.4,598.5 820.7,588.6 820.9,586.1 821.2,606.4 821.5,602.2 821.8,593.3 822.1,595.8 822.3,607.8 822.6,581.6 822.9,588.1 823.2,598.0 823.4,595.2 823.7,583.4 824.0,571.0 824.3,598.7 824.6,606.9 824.8,596.3 825.1,605.9 825.4,603.6 825.7,608.1 826.0,601.1 826.2,590.1 826.5,597.3 826.8,591.6 827.1,604.2 827.4,592.5 827.6,613.0 827.9,609.6 828.2,587.8 828.5,570.5 828.7,585.9 829.0,594.5 829.3,601.5 829.6,596.0 829.9,605.5 830.1,590.8 830.4,610.8 830.7,591.2 831.0,600.8 831.3,597.5 831.5,591.7 831.8,580.4 832.1,600.9 832.4,596.7 832.6,593.4 832.9,587.0 833.2,577.2 833.5,595.4 833.8,587.6 834.0,555.3 834.3,602.2 834.6,582.2"/>
</g>
<g font-family="Liberation Sans, sans-serif" font-size="25" fill="#000">
<text x="92.2" y="610.0" text-anchor="end">0</text>
<text x="92.2" y="503.5" text-anchor="end">2</text>
<text x="92.2" y="396.9" text-anchor="end">4</text>
<text x="92.2" y="290.4" text-anchor="end">6</text>
<text x="92.2" y="183.8" text-anchor="end">8</text>
<text x="92.2" y="77.3" text-anchor="end">10</text>
<text x="201.4" y="641.1" text-anchor="middle">1250</text>
<text x="383.3" y="641.1" text-anchor="middle">1300</text>
<text x="565.2" y="641.1" text-anchor="middle">1350</text>
<text x="747.1" y="641.1" text-anchor="middle">1400</text>
</g>
<g font-family="Liberation Sans, sans-serif" font-size="30" fill="#000" letter-spacing="0.2">
<text x="474.9" y="688.0" text-anchor="middle" letter-spacing="0.35">Wavelength [nm]</text>
<text transform="translate(28.6,288.4) rotate(-90) scale(1,1.065)" text-anchor="middle" letter-spacing="0.26">Power of the optical signal [nW]</text>
</g>
<g stroke-width="2.2">
<path d="M585.5,13.5H643" stroke="#2e2e2e"/>
<path d="M585.5,44.5H643" stroke="#ec2a2e"/>
<path d="M585.5,75H643" stroke="#1a5ed6"/>
</g>
<g font-family="Liberation Sans, sans-serif" font-size="24.5" fill="#000" letter-spacing="0.3">
<text transform="translate(656,21.9) scale(1,1.05)">Biotin</text>
<text transform="translate(656,52.3) scale(1,1.05)">Biotin + Avidin</text>
<text transform="translate(656,82.7) scale(1,1.05)">Biotin + Avidin + Antibody</text>
</g>
</svg>
</body></html>
